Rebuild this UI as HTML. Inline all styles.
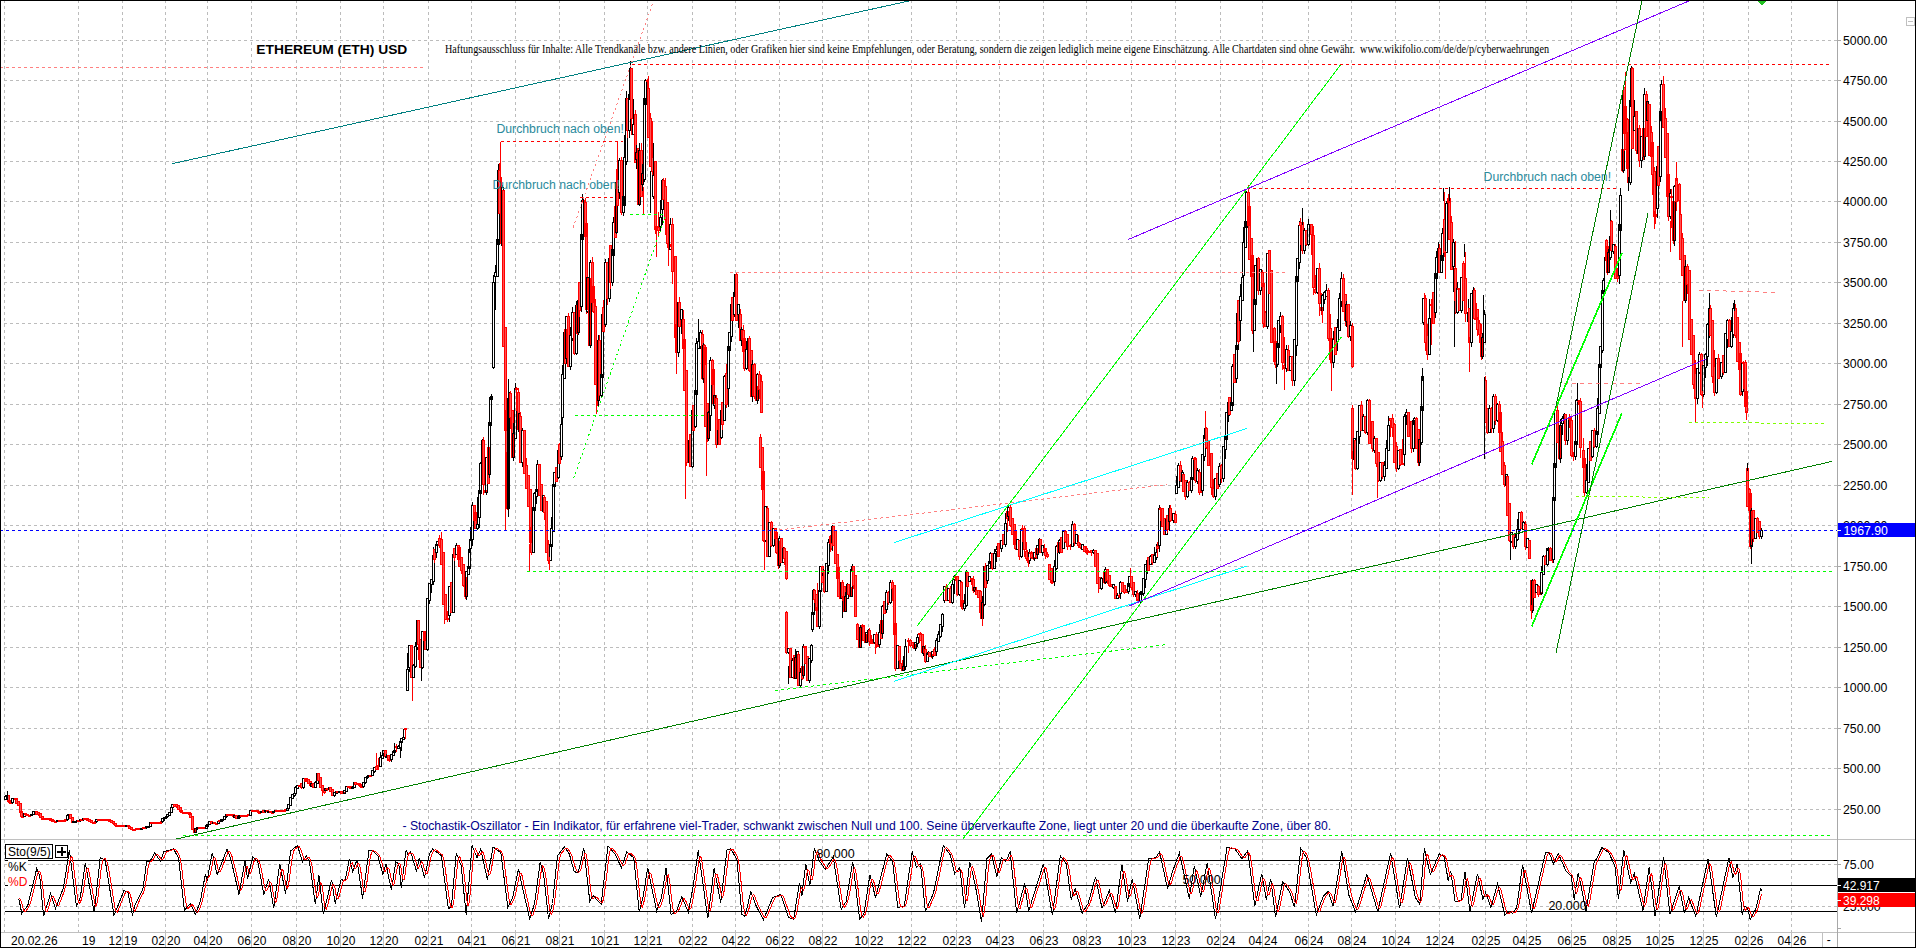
<!DOCTYPE html>
<html><head><meta charset="utf-8"><title>ETHEREUM (ETH) USD</title>
<style>html,body{margin:0;padding:0;background:#fff;overflow:hidden}svg{display:block}</style></head>
<body>
<svg width="1916" height="948" viewBox="0 0 1916 948" shape-rendering="crispEdges" fill="none">
<rect width="1916" height="948" fill="#fff"/>
<path d="M4 809.5H1837M4 768.5H1837M4 728.5H1837M4 687.5H1837M4 647.5H1837M4 606.5H1837M4 566.5H1837M4 525.5H1837M4 485.5H1837M4 444.5H1837M4 404.5H1837M4 363.5H1837M4 323.5H1837M4 282.5H1837M4 242.5H1837M4 201.5H1837M4 161.5H1837M4 121.5H1837M4 80.5H1837M4 40.5H1837M4 864.5H1837M4 906.5H1837M4.5 0V932M78.5 0V932M122.5 0V932M165.5 0V932M207.5 0V932M251.5 0V932M296.5 0V932M340.5 0V932M383.5 0V932M428.5 0V932M471.5 0V932M515.5 0V932M559.5 0V932M604.5 0V932M647.5 0V932M692.5 0V932M735.5 0V932M779.5 0V932M822.5 0V932M868.5 0V932M911.5 0V932M956.5 0V932M999.5 0V932M1043.5 0V932M1086.5 0V932M1131.5 0V932M1175.5 0V932M1220.5 0V932M1262.5 0V932M1308.5 0V932M1351.5 0V932M1395.5 0V932M1439.5 0V932M1485.5 0V932M1526.5 0V932M1571.5 0V932M1616.5 0V932M1659.5 0V932M1703.5 0V932M1748.5 0V932M1791.5 0V932" stroke="#bcbcbc" stroke-dasharray="3 3" fill="none"/>
<rect x="254" y="43" width="156" height="14" fill="#fff"/>
<rect x="443" y="43" width="1108" height="14" fill="#fff"/>
<rect x="401" y="820" width="932" height="14" fill="#fff"/>
<path d="M4.5 796.5h2V799.5h-2ZM6.5 794.5V795.5M6.5 796.5V797.5M5.5 795.5h2V796.5h-2Z" stroke="#000" fill="none"/>
<path d="M8.5 794.5V795.5M7.5 795.5h2V801.5h-2ZM8.5 800.5h2V802.5h-2ZM10.5 801.5V802.5M10.5 802.5V803.5M9.5 802.5h2V803.5h-2Z" stroke="#ff0000" fill="#ff5050"/>
<path d="M12.5 797.5V798.5M12.5 802.5V803.5M11.5 798.5h2V802.5h-2Z" stroke="#000" fill="none"/>
<path d="M15.5 797.5V798.5M15.5 798.5V800.5M14.5 798.5h2V799.5h-2ZM16.5 797.5V798.5M15.5 798.5h2V803.5h-2ZM17.5 801.5h2V805.5h-2ZM19.5 803.5h2V812.5h-2ZM20.5 811.5h2V816.5h-2ZM22.5 815.5V816.5M21.5 816.5h2V817.5h-2Z" stroke="#ff0000" fill="#ff5050"/>
<path d="M23.5 813.5h2V816.5h-2Z" stroke="#000" fill="none"/>
<path d="M25.5 814.5V815.5M24.5 813.5h2V814.5h-2ZM27.5 813.5V814.5M26.5 814.5h2V815.5h-2ZM29.5 814.5V815.5M28.5 815.5h2V816.5h-2Z" stroke="#ff0000" fill="#ff5050"/>
<path d="M31.5 813.5V814.5M30.5 814.5h2V815.5h-2ZM32.5 811.5h2V814.5h-2ZM35.5 812.5V813.5M34.5 811.5h2V812.5h-2Z" stroke="#000" fill="none"/>
<path d="M35.5 811.5h2V814.5h-2ZM38.5 814.5V815.5M37.5 812.5h2V814.5h-2ZM39.5 813.5h2V817.5h-2ZM41.5 816.5h2V819.5h-2ZM42.5 818.5h2V819.5h-2ZM45.5 818.5V819.5M44.5 818.5h2V819.5h-2ZM47.5 818.5V819.5M46.5 818.5h2V819.5h-2ZM48.5 818.5h2V819.5h-2ZM49.5 818.5h2V820.5h-2ZM51.5 819.5h2V821.5h-2ZM52.5 820.5h2V821.5h-2ZM55.5 820.5V821.5M54.5 821.5h2V822.5h-2Z" stroke="#ff0000" fill="#ff5050"/>
<path d="M56.5 820.5h2V821.5h-2Z" stroke="#000" fill="none"/>
<path d="M58.5 820.5h2V821.5h-2ZM59.5 820.5h2V821.5h-2ZM61.5 820.5h2V821.5h-2ZM64.5 819.5V820.5M63.5 820.5h2V821.5h-2ZM65.5 818.5V819.5M64.5 819.5h2V820.5h-2Z" stroke="#ff0000" fill="#ff5050"/>
<path d="M67.5 819.5V820.5M66.5 815.5h2V819.5h-2ZM68.5 813.5V814.5M68.5 815.5V816.5M67.5 814.5h2V815.5h-2Z" stroke="#000" fill="none"/>
<path d="M69.5 814.5h2V818.5h-2ZM71.5 817.5h2V822.5h-2Z" stroke="#ff0000" fill="#ff5050"/>
<path d="M72.5 821.5h2V822.5h-2ZM75.5 821.5V822.5M74.5 821.5h2V822.5h-2ZM76.5 820.5h2V821.5h-2Z" stroke="#000" fill="none"/>
<path d="M77.5 820.5h2V821.5h-2Z" stroke="#ff0000" fill="#ff5050"/>
<path d="M80.5 820.5V821.5M79.5 819.5h2V820.5h-2Z" stroke="#000" fill="none"/>
<path d="M80.5 819.5h2V820.5h-2Z" stroke="#ff0000" fill="#ff5050"/>
<path d="M83.5 819.5V820.5M82.5 818.5h2V819.5h-2Z" stroke="#000" fill="none"/>
<path d="M83.5 818.5h2V819.5h-2ZM86.5 817.5V818.5M85.5 818.5h2V819.5h-2ZM86.5 818.5h2V820.5h-2ZM88.5 819.5h2V821.5h-2ZM90.5 820.5h2V822.5h-2ZM93.5 821.5V822.5M92.5 822.5h2V823.5h-2ZM94.5 820.5V822.5M93.5 822.5h2V823.5h-2Z" stroke="#ff0000" fill="#ff5050"/>
<path d="M96.5 821.5V822.5M95.5 819.5h2V821.5h-2Z" stroke="#000" fill="none"/>
<path d="M97.5 819.5h2V820.5h-2ZM99.5 819.5V820.5M98.5 819.5h2V820.5h-2ZM100.5 819.5h2V820.5h-2ZM102.5 819.5h2V820.5h-2ZM103.5 819.5h2V820.5h-2ZM106.5 818.5V819.5M105.5 819.5h2V820.5h-2ZM108.5 818.5V819.5M107.5 819.5h2V820.5h-2ZM109.5 818.5V819.5M108.5 819.5h2V821.5h-2ZM110.5 820.5h2V822.5h-2ZM113.5 823.5V824.5M112.5 821.5h2V823.5h-2ZM115.5 825.5V826.5M114.5 823.5h2V825.5h-2ZM116.5 825.5h2V826.5h-2ZM118.5 825.5h2V826.5h-2ZM120.5 825.5h2V826.5h-2ZM123.5 825.5V826.5M122.5 825.5h2V826.5h-2ZM124.5 825.5V826.5M123.5 825.5h2V826.5h-2Z" stroke="#ff0000" fill="#ff5050"/>
<path d="M125.5 825.5h2V826.5h-2Z" stroke="#000" fill="none"/>
<path d="M128.5 826.5V827.5M127.5 825.5h2V826.5h-2ZM128.5 826.5h2V828.5h-2ZM130.5 827.5h2V829.5h-2ZM132.5 829.5h2V830.5h-2ZM134.5 828.5V829.5M133.5 829.5h2V830.5h-2ZM135.5 828.5h2V829.5h-2ZM136.5 828.5h2V829.5h-2ZM139.5 828.5V829.5M138.5 828.5h2V829.5h-2Z" stroke="#ff0000" fill="#ff5050"/>
<path d="M141.5 827.5V828.5M140.5 828.5h2V829.5h-2Z" stroke="#000" fill="none"/>
<path d="M142.5 827.5h2V828.5h-2ZM144.5 827.5h2V828.5h-2Z" stroke="#ff0000" fill="#ff5050"/>
<path d="M146.5 827.5V828.5M145.5 826.5h2V827.5h-2ZM148.5 826.5V827.5M147.5 826.5h2V827.5h-2ZM149.5 822.5h2V826.5h-2Z" stroke="#000" fill="none"/>
<path d="M150.5 822.5h2V823.5h-2ZM152.5 822.5h2V823.5h-2ZM154.5 822.5h2V823.5h-2ZM156.5 822.5h2V823.5h-2ZM158.5 822.5h2V823.5h-2ZM160.5 820.5V822.5M159.5 822.5h2V823.5h-2Z" stroke="#ff0000" fill="#ff5050"/>
<path d="M162.5 821.5V822.5M161.5 818.5h2V821.5h-2ZM164.5 818.5V820.5M163.5 817.5h2V818.5h-2ZM166.5 817.5V818.5M165.5 816.5h2V817.5h-2ZM167.5 816.5V817.5M166.5 814.5h2V816.5h-2ZM169.5 811.5V812.5M168.5 812.5h2V815.5h-2ZM170.5 807.5h2V812.5h-2ZM172.5 807.5V808.5M171.5 804.5h2V807.5h-2Z" stroke="#000" fill="none"/>
<path d="M173.5 804.5h2V806.5h-2ZM176.5 806.5V807.5M175.5 804.5h2V806.5h-2ZM178.5 804.5V805.5M177.5 805.5h2V809.5h-2ZM179.5 807.5h2V811.5h-2ZM181.5 809.5V810.5M180.5 810.5h2V812.5h-2ZM182.5 812.5h2V813.5h-2ZM185.5 811.5V812.5M184.5 812.5h2V813.5h-2ZM187.5 811.5V812.5M186.5 812.5h2V813.5h-2ZM189.5 811.5V812.5M188.5 812.5h2V814.5h-2ZM189.5 813.5h2V817.5h-2ZM191.5 816.5h2V829.5h-2ZM193.5 828.5h2V832.5h-2Z" stroke="#ff0000" fill="#ff5050"/>
<path d="M194.5 828.5h2V832.5h-2ZM197.5 826.5V827.5M197.5 828.5V829.5M196.5 827.5h2V828.5h-2Z" stroke="#000" fill="none"/>
<path d="M199.5 826.5V827.5M198.5 827.5h2V828.5h-2ZM200.5 827.5h2V828.5h-2ZM201.5 827.5h2V828.5h-2ZM203.5 827.5h2V828.5h-2Z" stroke="#ff0000" fill="#ff5050"/>
<path d="M205.5 825.5h2V828.5h-2ZM207.5 823.5V824.5M206.5 824.5h2V826.5h-2ZM208.5 821.5h2V824.5h-2Z" stroke="#000" fill="none"/>
<path d="M210.5 821.5h2V823.5h-2Z" stroke="#ff0000" fill="#ff5050"/>
<path d="M212.5 822.5h2V823.5h-2Z" stroke="#000" fill="none"/>
<path d="M213.5 822.5h2V823.5h-2ZM216.5 822.5V823.5M215.5 823.5h2V824.5h-2Z" stroke="#ff0000" fill="#ff5050"/>
<path d="M217.5 821.5h2V823.5h-2Z" stroke="#000" fill="none"/>
<path d="M218.5 820.5h2V821.5h-2Z" stroke="#ff0000" fill="#ff5050"/>
<path d="M220.5 819.5h2V821.5h-2ZM222.5 818.5V819.5M221.5 819.5h2V820.5h-2ZM223.5 816.5h2V819.5h-2ZM226.5 816.5V817.5M225.5 814.5h2V816.5h-2Z" stroke="#000" fill="none"/>
<path d="M227.5 813.5V814.5M227.5 814.5V815.5M226.5 814.5h2V815.5h-2ZM229.5 813.5V814.5M228.5 814.5h2V815.5h-2ZM230.5 814.5h2V815.5h-2ZM233.5 816.5V817.5M232.5 814.5h2V816.5h-2Z" stroke="#ff0000" fill="#ff5050"/>
<path d="M233.5 815.5h2V817.5h-2Z" stroke="#000" fill="none"/>
<path d="M235.5 815.5h2V818.5h-2Z" stroke="#ff0000" fill="#ff5050"/>
<path d="M237.5 816.5h2V818.5h-2ZM238.5 815.5h2V817.5h-2Z" stroke="#000" fill="none"/>
<path d="M241.5 815.5V816.5M240.5 815.5h2V816.5h-2ZM241.5 815.5h2V816.5h-2ZM243.5 815.5h2V816.5h-2ZM246.5 814.5V815.5M245.5 815.5h2V816.5h-2ZM247.5 814.5h2V815.5h-2Z" stroke="#ff0000" fill="#ff5050"/>
<path d="M250.5 809.5V810.5M249.5 810.5h2V815.5h-2Z" stroke="#000" fill="none"/>
<path d="M252.5 809.5V810.5M251.5 810.5h2V811.5h-2ZM254.5 809.5V810.5M253.5 810.5h2V811.5h-2ZM255.5 809.5V810.5M255.5 810.5V811.5M254.5 810.5h2V811.5h-2ZM257.5 811.5V812.5M256.5 810.5h2V811.5h-2ZM259.5 810.5V812.5M258.5 812.5h2V813.5h-2Z" stroke="#ff0000" fill="#ff5050"/>
<path d="M261.5 810.5V811.5M260.5 811.5h2V812.5h-2Z" stroke="#000" fill="none"/>
<path d="M262.5 810.5h2V812.5h-2Z" stroke="#ff0000" fill="#ff5050"/>
<path d="M265.5 809.5V810.5M265.5 811.5V812.5M264.5 810.5h2V811.5h-2Z" stroke="#000" fill="none"/>
<path d="M267.5 809.5V810.5M267.5 811.5V812.5M266.5 810.5h2V811.5h-2Z" stroke="#ff0000" fill="#ff5050"/>
<path d="M268.5 810.5V811.5M267.5 811.5h2V812.5h-2Z" stroke="#000" fill="none"/>
<path d="M269.5 811.5h2V812.5h-2ZM272.5 811.5V812.5M271.5 812.5h2V813.5h-2Z" stroke="#ff0000" fill="#ff5050"/>
<path d="M272.5 811.5h2V812.5h-2ZM275.5 809.5V810.5M274.5 810.5h2V811.5h-2Z" stroke="#000" fill="none"/>
<path d="M276.5 809.5V810.5M275.5 810.5h2V811.5h-2ZM278.5 809.5V810.5M277.5 810.5h2V811.5h-2ZM279.5 810.5h2V811.5h-2ZM280.5 810.5h2V811.5h-2ZM283.5 810.5V811.5M282.5 810.5h2V811.5h-2ZM285.5 810.5V811.5M284.5 809.5h2V810.5h-2Z" stroke="#ff0000" fill="#ff5050"/>
<path d="M287.5 807.5V808.5M286.5 808.5h2V810.5h-2ZM287.5 804.5h2V808.5h-2ZM289.5 797.5h2V805.5h-2ZM291.5 794.5h2V798.5h-2ZM294.5 795.5V796.5M293.5 793.5h2V795.5h-2ZM295.5 785.5V787.5M295.5 793.5V794.5M294.5 787.5h2V793.5h-2ZM296.5 785.5h2V788.5h-2Z" stroke="#000" fill="none"/>
<path d="M299.5 784.5V785.5M299.5 785.5V786.5M298.5 785.5h2V786.5h-2ZM301.5 787.5V788.5M300.5 783.5h2V787.5h-2Z" stroke="#ff0000" fill="#ff5050"/>
<path d="M303.5 777.5V778.5M303.5 787.5V788.5M302.5 778.5h2V787.5h-2Z" stroke="#000" fill="none"/>
<path d="M305.5 777.5V778.5M304.5 778.5h2V781.5h-2ZM305.5 778.5h2V781.5h-2ZM307.5 779.5h2V783.5h-2ZM310.5 785.5V786.5M309.5 781.5h2V785.5h-2Z" stroke="#ff0000" fill="#ff5050"/>
<path d="M310.5 783.5h2V786.5h-2Z" stroke="#000" fill="none"/>
<path d="M312.5 783.5h2V787.5h-2Z" stroke="#ff0000" fill="#ff5050"/>
<path d="M315.5 780.5V782.5M314.5 782.5h2V787.5h-2ZM317.5 772.5V773.5M316.5 773.5h2V783.5h-2Z" stroke="#000" fill="none"/>
<path d="M318.5 772.5V773.5M317.5 773.5h2V780.5h-2ZM319.5 777.5h2V787.5h-2ZM322.5 790.5V795.5M321.5 785.5h2V790.5h-2ZM324.5 792.5V793.5M323.5 789.5h2V792.5h-2Z" stroke="#ff0000" fill="#ff5050"/>
<path d="M324.5 788.5h2V790.5h-2Z" stroke="#000" fill="none"/>
<path d="M327.5 787.5V788.5M327.5 789.5V790.5M326.5 788.5h2V789.5h-2Z" stroke="#ff0000" fill="#ff5050"/>
<path d="M329.5 786.5V787.5M329.5 789.5V790.5M328.5 787.5h2V789.5h-2Z" stroke="#000" fill="none"/>
<path d="M330.5 786.5V787.5M329.5 787.5h2V791.5h-2ZM331.5 789.5h2V795.5h-2Z" stroke="#ff0000" fill="#ff5050"/>
<path d="M334.5 795.5V796.5M333.5 792.5h2V795.5h-2ZM336.5 790.5V791.5M335.5 791.5h2V793.5h-2Z" stroke="#000" fill="none"/>
<path d="M337.5 790.5V791.5M336.5 791.5h2V792.5h-2Z" stroke="#ff0000" fill="#ff5050"/>
<path d="M338.5 791.5h2V792.5h-2Z" stroke="#000" fill="none"/>
<path d="M340.5 791.5h2V793.5h-2ZM342.5 792.5h2V793.5h-2Z" stroke="#ff0000" fill="#ff5050"/>
<path d="M344.5 789.5V790.5M343.5 790.5h2V793.5h-2ZM345.5 786.5h2V791.5h-2Z" stroke="#000" fill="none"/>
<path d="M348.5 786.5V787.5M347.5 786.5h2V787.5h-2ZM349.5 787.5V788.5M348.5 786.5h2V787.5h-2ZM350.5 786.5h2V788.5h-2Z" stroke="#ff0000" fill="#ff5050"/>
<path d="M352.5 785.5V787.5M351.5 787.5h2V788.5h-2ZM354.5 781.5V782.5M353.5 782.5h2V787.5h-2Z" stroke="#000" fill="none"/>
<path d="M354.5 782.5h2V784.5h-2ZM357.5 782.5V783.5M357.5 783.5V784.5M356.5 783.5h2V784.5h-2ZM358.5 783.5h2V785.5h-2ZM360.5 786.5V787.5M359.5 784.5h2V786.5h-2ZM362.5 785.5V786.5M362.5 786.5V787.5M361.5 786.5h2V787.5h-2Z" stroke="#ff0000" fill="#ff5050"/>
<path d="M363.5 781.5V782.5M363.5 786.5V787.5M362.5 782.5h2V786.5h-2ZM365.5 776.5V777.5M365.5 782.5V783.5M364.5 777.5h2V782.5h-2ZM367.5 777.5V778.5M366.5 776.5h2V777.5h-2ZM368.5 774.5V775.5M367.5 775.5h2V776.5h-2Z" stroke="#000" fill="none"/>
<path d="M370.5 774.5V775.5M369.5 775.5h2V776.5h-2Z" stroke="#ff0000" fill="#ff5050"/>
<path d="M371.5 770.5h2V775.5h-2ZM374.5 771.5V772.5M373.5 767.5h2V771.5h-2Z" stroke="#000" fill="none"/>
<path d="M376.5 752.5V766.5M375.5 766.5h2V769.5h-2ZM378.5 757.5V765.5M378.5 766.5V769.5M377.5 765.5h2V766.5h-2Z" stroke="#ff0000" fill="#ff5050"/>
<path d="M380.5 751.5V757.5M379.5 757.5h2V766.5h-2ZM382.5 750.5V755.5M381.5 755.5h2V758.5h-2ZM383.5 753.5V755.5M382.5 750.5h2V753.5h-2Z" stroke="#000" fill="none"/>
<path d="M385.5 756.5V757.5M384.5 750.5h2V756.5h-2Z" stroke="#ff0000" fill="#ff5050"/>
<path d="M386.5 753.5V756.5M385.5 756.5h2V757.5h-2Z" stroke="#000" fill="none"/>
<path d="M387.5 755.5h2V760.5h-2ZM389.5 756.5V759.5M389.5 760.5V761.5M388.5 759.5h2V760.5h-2Z" stroke="#ff0000" fill="#ff5050"/>
<path d="M391.5 753.5V754.5M391.5 759.5V761.5M390.5 754.5h2V759.5h-2ZM393.5 750.5V751.5M392.5 751.5h2V755.5h-2ZM394.5 742.5V750.5M393.5 750.5h2V752.5h-2Z" stroke="#000" fill="none"/>
<path d="M396.5 743.5V746.5M396.5 747.5V751.5M395.5 746.5h2V747.5h-2Z" stroke="#ff0000" fill="#ff5050"/>
<path d="M398.5 744.5V746.5M397.5 746.5h2V748.5h-2ZM400.5 747.5V757.5M399.5 741.5h2V747.5h-2ZM401.5 737.5V738.5M401.5 742.5V750.5M400.5 738.5h2V742.5h-2ZM403.5 728.5V737.5M402.5 737.5h2V739.5h-2Z" stroke="#000" fill="none"/>
<path d="M405.5 729.5V738.5M404.5 728.5h2V729.5h-2Z" stroke="#ff0000" fill="#ff5050"/>
<path d="M407.5 652.5V669.5M406.5 669.5h2V690.5h-2ZM409.5 644.5V645.5M409.5 667.5V671.5M408.5 645.5h2V667.5h-2Z" stroke="#000" fill="none"/>
<path d="M411.5 644.5V645.5M410.5 645.5h2V677.5h-2Z" stroke="#ff0000" fill="#ff5050"/>
<path d="M413.5 663.5V665.5M412.5 665.5h2V677.5h-2ZM415.5 641.5V646.5M415.5 666.5V667.5M414.5 646.5h2V666.5h-2ZM417.5 619.5V620.5M417.5 647.5V649.5M416.5 620.5h2V647.5h-2Z" stroke="#000" fill="none"/>
<path d="M418.5 619.5V620.5M418.5 644.5V659.5M417.5 620.5h2V644.5h-2ZM419.5 639.5h2V667.5h-2Z" stroke="#ff0000" fill="#ff5050"/>
<path d="M422.5 630.5V631.5M422.5 667.5V668.5M421.5 631.5h2V667.5h-2Z" stroke="#000" fill="none"/>
<path d="M424.5 630.5V631.5M424.5 640.5V641.5M423.5 631.5h2V640.5h-2ZM424.5 632.5h2V649.5h-2Z" stroke="#ff0000" fill="#ff5050"/>
<path d="M427.5 597.5V598.5M427.5 649.5V650.5M426.5 598.5h2V649.5h-2ZM429.5 600.5V603.5M428.5 583.5h2V600.5h-2ZM431.5 578.5V579.5M431.5 584.5V592.5M430.5 579.5h2V584.5h-2ZM433.5 546.5V555.5M433.5 581.5V584.5M432.5 555.5h2V581.5h-2Z" stroke="#000" fill="none"/>
<path d="M434.5 559.5V562.5M433.5 549.5h2V559.5h-2Z" stroke="#ff0000" fill="#ff5050"/>
<path d="M436.5 541.5V544.5M436.5 552.5V557.5M435.5 544.5h2V552.5h-2ZM437.5 540.5V541.5M437.5 545.5V551.5M436.5 541.5h2V545.5h-2Z" stroke="#000" fill="none"/>
<path d="M439.5 534.5V538.5M439.5 545.5V547.5M438.5 538.5h2V545.5h-2ZM441.5 531.5V539.5M440.5 539.5h2V564.5h-2ZM442.5 552.5h2V604.5h-2ZM444.5 594.5h2V619.5h-2ZM447.5 610.5V618.5M447.5 619.5V621.5M446.5 618.5h2V619.5h-2Z" stroke="#ff0000" fill="#ff5050"/>
<path d="M449.5 585.5V586.5M449.5 615.5V621.5M448.5 586.5h2V615.5h-2Z" stroke="#000" fill="none"/>
<path d="M450.5 582.5h2V612.5h-2Z" stroke="#ff0000" fill="#ff5050"/>
<path d="M453.5 549.5V554.5M452.5 554.5h2V612.5h-2Z" stroke="#000" fill="none"/>
<path d="M454.5 557.5V560.5M453.5 548.5h2V557.5h-2Z" stroke="#ff0000" fill="#ff5050"/>
<path d="M456.5 542.5V545.5M455.5 545.5h2V554.5h-2Z" stroke="#000" fill="none"/>
<path d="M458.5 544.5V545.5M457.5 545.5h2V559.5h-2ZM458.5 547.5h2V566.5h-2ZM461.5 570.5V573.5M460.5 557.5h2V570.5h-2ZM463.5 585.5V586.5M462.5 564.5h2V585.5h-2ZM465.5 596.5V598.5M464.5 577.5h2V596.5h-2Z" stroke="#ff0000" fill="#ff5050"/>
<path d="M466.5 570.5V571.5M466.5 596.5V599.5M465.5 571.5h2V596.5h-2ZM468.5 548.5V566.5M467.5 566.5h2V574.5h-2ZM469.5 538.5V552.5M469.5 568.5V569.5M468.5 552.5h2V568.5h-2ZM470.5 526.5V540.5M470.5 548.5V554.5M469.5 540.5h2V548.5h-2ZM472.5 501.5V505.5M472.5 539.5V545.5M471.5 505.5h2V539.5h-2Z" stroke="#000" fill="none"/>
<path d="M474.5 504.5V505.5M473.5 505.5h2V520.5h-2ZM474.5 512.5h2V528.5h-2Z" stroke="#ff0000" fill="#ff5050"/>
<path d="M477.5 496.5V524.5M477.5 528.5V529.5M476.5 524.5h2V528.5h-2ZM479.5 486.5V490.5M479.5 517.5V527.5M478.5 490.5h2V517.5h-2ZM480.5 461.5V463.5M480.5 493.5V494.5M479.5 463.5h2V493.5h-2ZM482.5 438.5V440.5M482.5 466.5V484.5M481.5 440.5h2V466.5h-2Z" stroke="#000" fill="none"/>
<path d="M483.5 436.5V440.5M483.5 484.5V494.5M482.5 440.5h2V484.5h-2ZM485.5 470.5V490.5M484.5 490.5h2V492.5h-2Z" stroke="#ff0000" fill="#ff5050"/>
<path d="M486.5 456.5V457.5M486.5 492.5V494.5M485.5 457.5h2V492.5h-2Z" stroke="#000" fill="none"/>
<path d="M487.5 447.5h2V483.5h-2Z" stroke="#ff0000" fill="#ff5050"/>
<path d="M489.5 420.5V422.5M489.5 474.5V477.5M488.5 422.5h2V474.5h-2ZM489.5 397.5h2V425.5h-2ZM491.5 393.5V396.5M491.5 399.5V403.5M490.5 396.5h2V399.5h-2ZM493.5 274.5V282.5M493.5 367.5V368.5M492.5 282.5h2V367.5h-2ZM495.5 264.5V272.5M495.5 276.5V309.5M494.5 272.5h2V276.5h-2ZM497.5 225.5V239.5M496.5 239.5h2V276.5h-2ZM498.5 163.5V170.5M497.5 170.5h2V244.5h-2Z" stroke="#000" fill="none"/>
<path d="M499.5 162.5V170.5M498.5 170.5h2V213.5h-2ZM501.5 176.5V192.5M501.5 243.5V244.5M500.5 192.5h2V243.5h-2Z" stroke="#ff0000" fill="#ff5050"/>
<path d="M502.5 184.5V187.5M502.5 245.5V248.5M501.5 187.5h2V245.5h-2Z" stroke="#000" fill="none"/>
<path d="M503.5 189.5V190.5M502.5 190.5h2V346.5h-2ZM505.5 430.5V433.5M504.5 327.5h2V430.5h-2ZM505.5 410.5h2V462.5h-2ZM507.5 508.5V509.5M506.5 452.5h2V508.5h-2Z" stroke="#ff0000" fill="#ff5050"/>
<path d="M508.5 394.5V398.5M507.5 398.5h2V508.5h-2ZM509.5 391.5V393.5M508.5 393.5h2V401.5h-2Z" stroke="#000" fill="none"/>
<path d="M510.5 390.5V393.5M510.5 417.5V428.5M509.5 393.5h2V417.5h-2ZM512.5 409.5V410.5M511.5 410.5h2V457.5h-2Z" stroke="#ff0000" fill="#ff5050"/>
<path d="M513.5 422.5V433.5M513.5 457.5V460.5M512.5 433.5h2V457.5h-2ZM515.5 382.5V388.5M514.5 388.5h2V438.5h-2Z" stroke="#000" fill="none"/>
<path d="M516.5 386.5V388.5M516.5 388.5V410.5M515.5 388.5h2V389.5h-2ZM518.5 387.5V392.5M517.5 392.5h2V429.5h-2Z" stroke="#ff0000" fill="#ff5050"/>
<path d="M518.5 413.5h2V431.5h-2Z" stroke="#000" fill="none"/>
<path d="M520.5 411.5V416.5M519.5 416.5h2V462.5h-2Z" stroke="#ff0000" fill="#ff5050"/>
<path d="M522.5 427.5V430.5M522.5 462.5V466.5M521.5 430.5h2V462.5h-2Z" stroke="#000" fill="none"/>
<path d="M524.5 429.5V430.5M523.5 430.5h2V473.5h-2ZM526.5 457.5V465.5M525.5 465.5h2V488.5h-2ZM527.5 475.5h2V506.5h-2ZM530.5 542.5V543.5M529.5 489.5h2V542.5h-2ZM531.5 552.5V554.5M530.5 527.5h2V552.5h-2Z" stroke="#ff0000" fill="#ff5050"/>
<path d="M533.5 506.5V507.5M532.5 507.5h2V552.5h-2ZM534.5 491.5V493.5M534.5 510.5V523.5M533.5 493.5h2V510.5h-2ZM536.5 483.5V489.5M536.5 496.5V503.5M535.5 489.5h2V496.5h-2ZM537.5 459.5V464.5M537.5 491.5V493.5M536.5 464.5h2V491.5h-2Z" stroke="#000" fill="none"/>
<path d="M539.5 463.5V464.5M538.5 464.5h2V495.5h-2ZM540.5 484.5h2V510.5h-2Z" stroke="#ff0000" fill="#ff5050"/>
<path d="M543.5 511.5V512.5M542.5 495.5h2V511.5h-2Z" stroke="#000" fill="none"/>
<path d="M544.5 494.5V497.5M544.5 512.5V519.5M543.5 497.5h2V512.5h-2ZM545.5 501.5h2V552.5h-2ZM548.5 539.5V544.5M548.5 560.5V563.5M547.5 544.5h2V560.5h-2Z" stroke="#ff0000" fill="#ff5050"/>
<path d="M549.5 544.5h2V560.5h-2ZM551.5 516.5V528.5M551.5 546.5V558.5M550.5 528.5h2V546.5h-2ZM552.5 484.5h2V531.5h-2ZM554.5 471.5V472.5M554.5 486.5V501.5M553.5 472.5h2V486.5h-2Z" stroke="#000" fill="none"/>
<path d="M555.5 467.5h2V481.5h-2Z" stroke="#ff0000" fill="#ff5050"/>
<path d="M558.5 448.5V450.5M558.5 477.5V478.5M557.5 450.5h2V477.5h-2Z" stroke="#000" fill="none"/>
<path d="M559.5 442.5V444.5M558.5 444.5h2V463.5h-2Z" stroke="#ff0000" fill="#ff5050"/>
<path d="M561.5 412.5V424.5M561.5 456.5V459.5M560.5 424.5h2V456.5h-2ZM562.5 364.5V374.5M562.5 417.5V430.5M561.5 374.5h2V417.5h-2ZM564.5 330.5V332.5M563.5 332.5h2V378.5h-2Z" stroke="#000" fill="none"/>
<path d="M564.5 329.5h2V363.5h-2Z" stroke="#ff0000" fill="#ff5050"/>
<path d="M566.5 315.5V316.5M566.5 358.5V363.5M565.5 316.5h2V358.5h-2Z" stroke="#000" fill="none"/>
<path d="M568.5 312.5V316.5M567.5 316.5h2V366.5h-2Z" stroke="#ff0000" fill="#ff5050"/>
<path d="M570.5 326.5V335.5M570.5 366.5V369.5M569.5 335.5h2V366.5h-2ZM572.5 306.5V312.5M572.5 338.5V340.5M571.5 312.5h2V338.5h-2Z" stroke="#000" fill="none"/>
<path d="M574.5 311.5V312.5M574.5 353.5V354.5M573.5 312.5h2V353.5h-2Z" stroke="#ff0000" fill="#ff5050"/>
<path d="M576.5 300.5V305.5M576.5 353.5V354.5M575.5 305.5h2V353.5h-2Z" stroke="#000" fill="none"/>
<path d="M577.5 303.5V305.5M577.5 333.5V334.5M576.5 305.5h2V333.5h-2Z" stroke="#ff0000" fill="#ff5050"/>
<path d="M578.5 286.5V300.5M578.5 332.5V334.5M577.5 300.5h2V332.5h-2Z" stroke="#000" fill="none"/>
<path d="M579.5 310.5V316.5M578.5 282.5h2V310.5h-2Z" stroke="#ff0000" fill="#ff5050"/>
<path d="M581.5 306.5V311.5M580.5 234.5h2V306.5h-2ZM582.5 193.5V200.5M582.5 239.5V246.5M581.5 200.5h2V239.5h-2Z" stroke="#000" fill="none"/>
<path d="M583.5 198.5V200.5M583.5 202.5V215.5M582.5 200.5h2V202.5h-2ZM585.5 197.5V202.5M585.5 236.5V262.5M584.5 202.5h2V236.5h-2ZM586.5 309.5V313.5M585.5 223.5h2V309.5h-2Z" stroke="#ff0000" fill="#ff5050"/>
<path d="M587.5 311.5V312.5M586.5 277.5h2V311.5h-2Z" stroke="#000" fill="none"/>
<path d="M588.5 278.5h2V345.5h-2Z" stroke="#ff0000" fill="#ff5050"/>
<path d="M590.5 259.5V262.5M590.5 345.5V347.5M589.5 262.5h2V345.5h-2Z" stroke="#000" fill="none"/>
<path d="M592.5 256.5V262.5M592.5 302.5V306.5M591.5 262.5h2V302.5h-2ZM593.5 311.5V312.5M592.5 286.5h2V311.5h-2ZM595.5 298.5V306.5M594.5 306.5h2V384.5h-2ZM597.5 360.5V368.5M597.5 400.5V405.5M596.5 368.5h2V400.5h-2Z" stroke="#ff0000" fill="#ff5050"/>
<path d="M598.5 334.5V340.5M598.5 400.5V405.5M597.5 340.5h2V400.5h-2Z" stroke="#000" fill="none"/>
<path d="M599.5 334.5V340.5M598.5 340.5h2V395.5h-2Z" stroke="#ff0000" fill="#ff5050"/>
<path d="M601.5 395.5V396.5M600.5 374.5h2V395.5h-2ZM602.5 377.5V395.5M601.5 314.5h2V377.5h-2Z" stroke="#000" fill="none"/>
<path d="M603.5 299.5V307.5M602.5 307.5h2V331.5h-2Z" stroke="#ff0000" fill="#ff5050"/>
<path d="M605.5 258.5V262.5M605.5 324.5V326.5M604.5 262.5h2V324.5h-2Z" stroke="#000" fill="none"/>
<path d="M607.5 261.5V262.5M607.5 298.5V304.5M606.5 262.5h2V298.5h-2Z" stroke="#ff0000" fill="#ff5050"/>
<path d="M609.5 251.5V258.5M609.5 298.5V301.5M608.5 258.5h2V298.5h-2Z" stroke="#000" fill="none"/>
<path d="M610.5 282.5V288.5M609.5 245.5h2V282.5h-2Z" stroke="#ff0000" fill="#ff5050"/>
<path d="M612.5 241.5V249.5M612.5 282.5V285.5M611.5 249.5h2V282.5h-2ZM613.5 216.5V222.5M612.5 222.5h2V255.5h-2Z" stroke="#000" fill="none"/>
<path d="M614.5 206.5h2V237.5h-2Z" stroke="#ff0000" fill="#ff5050"/>
<path d="M616.5 179.5V182.5M616.5 232.5V233.5M615.5 182.5h2V232.5h-2Z" stroke="#000" fill="none"/>
<path d="M616.5 169.5h2V205.5h-2Z" stroke="#ff0000" fill="#ff5050"/>
<path d="M619.5 157.5V160.5M619.5 192.5V198.5M618.5 160.5h2V192.5h-2Z" stroke="#000" fill="none"/>
<path d="M621.5 156.5V160.5M621.5 212.5V214.5M620.5 160.5h2V212.5h-2Z" stroke="#ff0000" fill="#ff5050"/>
<path d="M623.5 169.5V196.5M623.5 212.5V215.5M622.5 196.5h2V212.5h-2ZM624.5 134.5V157.5M623.5 157.5h2V205.5h-2ZM626.5 90.5V98.5M626.5 161.5V164.5M625.5 98.5h2V161.5h-2Z" stroke="#000" fill="none"/>
<path d="M627.5 97.5V98.5M627.5 130.5V137.5M626.5 98.5h2V130.5h-2Z" stroke="#ff0000" fill="#ff5050"/>
<path d="M629.5 90.5V94.5M629.5 130.5V137.5M628.5 94.5h2V130.5h-2ZM630.5 60.5V68.5M630.5 99.5V108.5M629.5 68.5h2V99.5h-2Z" stroke="#000" fill="none"/>
<path d="M631.5 67.5V68.5M631.5 118.5V134.5M630.5 68.5h2V118.5h-2Z" stroke="#ff0000" fill="#ff5050"/>
<path d="M633.5 98.5V124.5M632.5 124.5h2V134.5h-2Z" stroke="#000" fill="none"/>
<path d="M635.5 109.5V114.5M634.5 114.5h2V162.5h-2Z" stroke="#ff0000" fill="#ff5050"/>
<path d="M636.5 144.5V152.5M636.5 159.5V168.5M635.5 152.5h2V159.5h-2Z" stroke="#000" fill="none"/>
<path d="M637.5 148.5h2V204.5h-2Z" stroke="#ff0000" fill="#ff5050"/>
<path d="M639.5 142.5V150.5M639.5 204.5V205.5M638.5 150.5h2V204.5h-2Z" stroke="#000" fill="none"/>
<path d="M641.5 142.5V150.5M640.5 150.5h2V196.5h-2Z" stroke="#ff0000" fill="#ff5050"/>
<path d="M642.5 163.5V173.5M642.5 184.5V190.5M641.5 173.5h2V184.5h-2ZM644.5 179.5V181.5M643.5 98.5h2V179.5h-2ZM645.5 78.5V80.5M645.5 104.5V120.5M644.5 80.5h2V104.5h-2Z" stroke="#000" fill="none"/>
<path d="M647.5 78.5V80.5M647.5 81.5V120.5M646.5 80.5h2V81.5h-2ZM648.5 75.5V88.5M647.5 88.5h2V137.5h-2ZM650.5 112.5V118.5M649.5 118.5h2V166.5h-2ZM652.5 120.5V157.5M652.5 171.5V193.5M651.5 157.5h2V171.5h-2Z" stroke="#ff0000" fill="#ff5050"/>
<path d="M653.5 142.5V175.5M653.5 196.5V198.5M652.5 175.5h2V196.5h-2Z" stroke="#000" fill="none"/>
<path d="M655.5 229.5V233.5M654.5 161.5h2V229.5h-2ZM656.5 230.5V231.5M655.5 226.5h2V230.5h-2ZM658.5 211.5V227.5M658.5 230.5V235.5M657.5 227.5h2V230.5h-2Z" stroke="#ff0000" fill="#ff5050"/>
<path d="M660.5 199.5V217.5M660.5 226.5V230.5M659.5 217.5h2V226.5h-2ZM662.5 178.5V180.5M662.5 209.5V224.5M661.5 180.5h2V209.5h-2Z" stroke="#000" fill="none"/>
<path d="M663.5 177.5V180.5M662.5 180.5h2V199.5h-2ZM665.5 177.5V186.5M665.5 219.5V234.5M664.5 186.5h2V219.5h-2ZM667.5 243.5V247.5M666.5 202.5h2V243.5h-2ZM669.5 225.5V244.5M669.5 246.5V247.5M668.5 244.5h2V246.5h-2Z" stroke="#ff0000" fill="#ff5050"/>
<path d="M670.5 217.5V224.5M669.5 224.5h2V249.5h-2Z" stroke="#000" fill="none"/>
<path d="M672.5 217.5V224.5M672.5 271.5V283.5M671.5 224.5h2V271.5h-2ZM674.5 256.5h2V337.5h-2ZM676.5 352.5V353.5M675.5 324.5h2V352.5h-2Z" stroke="#ff0000" fill="#ff5050"/>
<path d="M678.5 301.5V302.5M678.5 352.5V356.5M677.5 302.5h2V352.5h-2Z" stroke="#000" fill="none"/>
<path d="M679.5 296.5V302.5M678.5 302.5h2V326.5h-2Z" stroke="#ff0000" fill="#ff5050"/>
<path d="M681.5 308.5V309.5M681.5 319.5V333.5M680.5 309.5h2V319.5h-2Z" stroke="#000" fill="none"/>
<path d="M683.5 309.5V319.5M683.5 348.5V350.5M682.5 319.5h2V348.5h-2ZM684.5 337.5V339.5M683.5 339.5h2V390.5h-2ZM686.5 462.5V465.5M685.5 370.5h2V462.5h-2Z" stroke="#ff0000" fill="#ff5050"/>
<path d="M689.5 435.5V440.5M689.5 462.5V466.5M688.5 440.5h2V462.5h-2Z" stroke="#000" fill="none"/>
<path d="M689.5 434.5h2V466.5h-2Z" stroke="#ff0000" fill="#ff5050"/>
<path d="M692.5 405.5V410.5M692.5 466.5V467.5M691.5 410.5h2V466.5h-2Z" stroke="#000" fill="none"/>
<path d="M692.5 405.5h2V430.5h-2Z" stroke="#ff0000" fill="#ff5050"/>
<path d="M695.5 389.5V390.5M695.5 426.5V427.5M694.5 390.5h2V426.5h-2ZM696.5 337.5V343.5M696.5 394.5V397.5M695.5 343.5h2V394.5h-2ZM698.5 318.5V341.5M697.5 341.5h2V348.5h-2ZM700.5 329.5V332.5M700.5 346.5V348.5M699.5 332.5h2V346.5h-2Z" stroke="#000" fill="none"/>
<path d="M702.5 329.5V334.5M702.5 378.5V379.5M701.5 334.5h2V378.5h-2Z" stroke="#ff0000" fill="#ff5050"/>
<path d="M703.5 342.5V345.5M703.5 378.5V382.5M702.5 345.5h2V378.5h-2Z" stroke="#000" fill="none"/>
<path d="M704.5 343.5V345.5M704.5 364.5V379.5M703.5 345.5h2V364.5h-2ZM704.5 347.5h2V426.5h-2ZM707.5 402.5V403.5M707.5 438.5V441.5M706.5 403.5h2V438.5h-2Z" stroke="#ff0000" fill="#ff5050"/>
<path d="M708.5 410.5V412.5M708.5 438.5V440.5M707.5 412.5h2V438.5h-2ZM710.5 356.5V360.5M710.5 415.5V430.5M709.5 360.5h2V415.5h-2Z" stroke="#000" fill="none"/>
<path d="M712.5 358.5V360.5M711.5 360.5h2V384.5h-2ZM713.5 403.5V404.5M712.5 369.5h2V403.5h-2Z" stroke="#ff0000" fill="#ff5050"/>
<path d="M714.5 405.5V408.5M713.5 395.5h2V405.5h-2Z" stroke="#000" fill="none"/>
<path d="M716.5 394.5V398.5M716.5 444.5V447.5M715.5 398.5h2V444.5h-2Z" stroke="#ff0000" fill="#ff5050"/>
<path d="M717.5 430.5h2V444.5h-2Z" stroke="#000" fill="none"/>
<path d="M718.5 419.5h2V444.5h-2Z" stroke="#ff0000" fill="#ff5050"/>
<path d="M721.5 406.5V410.5M721.5 437.5V438.5M720.5 410.5h2V437.5h-2Z" stroke="#000" fill="none"/>
<path d="M722.5 424.5V429.5M721.5 402.5h2V424.5h-2Z" stroke="#ff0000" fill="#ff5050"/>
<path d="M724.5 374.5V376.5M723.5 376.5h2V420.5h-2Z" stroke="#000" fill="none"/>
<path d="M726.5 363.5V373.5M726.5 404.5V407.5M725.5 373.5h2V404.5h-2Z" stroke="#ff0000" fill="#ff5050"/>
<path d="M728.5 343.5V346.5M728.5 388.5V406.5M727.5 346.5h2V388.5h-2ZM728.5 332.5h2V350.5h-2ZM731.5 302.5V304.5M731.5 336.5V341.5M730.5 304.5h2V336.5h-2Z" stroke="#000" fill="none"/>
<path d="M731.5 297.5h2V320.5h-2Z" stroke="#ff0000" fill="#ff5050"/>
<path d="M734.5 289.5V292.5M734.5 314.5V316.5M733.5 292.5h2V314.5h-2ZM735.5 273.5V274.5M735.5 296.5V299.5M734.5 274.5h2V296.5h-2Z" stroke="#000" fill="none"/>
<path d="M736.5 272.5V274.5M735.5 274.5h2V320.5h-2Z" stroke="#ff0000" fill="#ff5050"/>
<path d="M738.5 314.5V327.5M737.5 304.5h2V314.5h-2Z" stroke="#000" fill="none"/>
<path d="M740.5 308.5V314.5M739.5 314.5h2V340.5h-2Z" stroke="#ff0000" fill="#ff5050"/>
<path d="M741.5 326.5V329.5M741.5 340.5V345.5M740.5 329.5h2V340.5h-2Z" stroke="#000" fill="none"/>
<path d="M743.5 324.5V330.5M743.5 351.5V355.5M742.5 330.5h2V351.5h-2ZM744.5 337.5V338.5M744.5 368.5V370.5M743.5 338.5h2V368.5h-2Z" stroke="#ff0000" fill="#ff5050"/>
<path d="M746.5 340.5V349.5M746.5 368.5V369.5M745.5 349.5h2V368.5h-2ZM748.5 337.5V338.5M748.5 352.5V353.5M747.5 338.5h2V352.5h-2Z" stroke="#000" fill="none"/>
<path d="M749.5 335.5V338.5M749.5 370.5V371.5M748.5 338.5h2V370.5h-2ZM750.5 350.5h2V396.5h-2Z" stroke="#ff0000" fill="#ff5050"/>
<path d="M752.5 359.5V364.5M752.5 396.5V401.5M751.5 364.5h2V396.5h-2Z" stroke="#000" fill="none"/>
<path d="M754.5 362.5V364.5M754.5 396.5V398.5M753.5 364.5h2V396.5h-2ZM756.5 376.5V386.5M755.5 386.5h2V400.5h-2Z" stroke="#ff0000" fill="#ff5050"/>
<path d="M757.5 372.5V374.5M757.5 400.5V403.5M756.5 374.5h2V400.5h-2Z" stroke="#000" fill="none"/>
<path d="M759.5 370.5V374.5M759.5 389.5V398.5M758.5 374.5h2V389.5h-2ZM761.5 374.5V381.5M760.5 381.5h2V412.5h-2ZM760.5 433.5V437.5M759.5 437.5h2V467.5h-2ZM761.5 447.5h2V489.5h-2ZM763.5 540.5V541.5M762.5 471.5h2V540.5h-2Z" stroke="#ff0000" fill="#ff5050"/>
<path d="M765.5 540.5V541.5M764.5 506.5h2V540.5h-2Z" stroke="#000" fill="none"/>
<path d="M767.5 505.5V508.5M766.5 508.5h2V556.5h-2Z" stroke="#ff0000" fill="#ff5050"/>
<path d="M769.5 521.5V522.5M768.5 522.5h2V556.5h-2Z" stroke="#000" fill="none"/>
<path d="M771.5 520.5V522.5M771.5 545.5V546.5M770.5 522.5h2V545.5h-2Z" stroke="#ff0000" fill="#ff5050"/>
<path d="M773.5 527.5V528.5M773.5 545.5V546.5M772.5 528.5h2V545.5h-2Z" stroke="#000" fill="none"/>
<path d="M775.5 527.5V528.5M775.5 538.5V543.5M774.5 528.5h2V538.5h-2ZM776.5 530.5V532.5M776.5 552.5V553.5M775.5 532.5h2V552.5h-2ZM778.5 565.5V568.5M777.5 541.5h2V565.5h-2Z" stroke="#ff0000" fill="#ff5050"/>
<path d="M779.5 535.5V538.5M779.5 565.5V567.5M778.5 538.5h2V565.5h-2Z" stroke="#000" fill="none"/>
<path d="M781.5 537.5V538.5M780.5 538.5h2V562.5h-2Z" stroke="#ff0000" fill="#ff5050"/>
<path d="M783.5 546.5V548.5M782.5 548.5h2V562.5h-2Z" stroke="#000" fill="none"/>
<path d="M784.5 546.5V548.5M784.5 558.5V564.5M783.5 548.5h2V558.5h-2ZM786.5 578.5V579.5M785.5 551.5h2V578.5h-2ZM786.5 610.5V612.5M786.5 652.5V653.5M785.5 612.5h2V652.5h-2Z" stroke="#ff0000" fill="#ff5050"/>
<path d="M788.5 647.5V648.5M788.5 652.5V653.5M787.5 648.5h2V652.5h-2Z" stroke="#000" fill="none"/>
<path d="M789.5 648.5h2V677.5h-2Z" stroke="#ff0000" fill="#ff5050"/>
<path d="M792.5 657.5V660.5M791.5 660.5h2V677.5h-2Z" stroke="#000" fill="none"/>
<path d="M793.5 655.5h2V678.5h-2Z" stroke="#ff0000" fill="#ff5050"/>
<path d="M795.5 648.5V657.5M794.5 657.5h2V678.5h-2ZM797.5 658.5V662.5M796.5 651.5h2V658.5h-2Z" stroke="#000" fill="none"/>
<path d="M798.5 651.5V654.5M797.5 654.5h2V685.5h-2Z" stroke="#ff0000" fill="#ff5050"/>
<path d="M800.5 667.5V672.5M800.5 685.5V686.5M799.5 672.5h2V685.5h-2Z" stroke="#000" fill="none"/>
<path d="M802.5 678.5V679.5M801.5 666.5h2V678.5h-2Z" stroke="#ff0000" fill="#ff5050"/>
<path d="M803.5 643.5V646.5M803.5 675.5V677.5M802.5 646.5h2V675.5h-2Z" stroke="#000" fill="none"/>
<path d="M804.5 645.5V646.5M804.5 646.5V654.5M803.5 646.5h2V647.5h-2ZM805.5 645.5V646.5M804.5 646.5h2V663.5h-2ZM806.5 656.5h2V680.5h-2Z" stroke="#ff0000" fill="#ff5050"/>
<path d="M809.5 680.5V682.5M808.5 658.5h2V680.5h-2ZM811.5 643.5V645.5M811.5 660.5V662.5M810.5 645.5h2V660.5h-2ZM812.5 606.5V612.5M812.5 629.5V631.5M811.5 612.5h2V629.5h-2ZM813.5 588.5V590.5M813.5 614.5V615.5M812.5 590.5h2V614.5h-2Z" stroke="#000" fill="none"/>
<path d="M814.5 588.5V590.5M814.5 599.5V602.5M813.5 590.5h2V599.5h-2ZM815.5 594.5h2V610.5h-2ZM817.5 582.5V607.5M816.5 607.5h2V626.5h-2Z" stroke="#ff0000" fill="#ff5050"/>
<path d="M819.5 588.5V590.5M819.5 626.5V628.5M818.5 590.5h2V626.5h-2ZM820.5 565.5V566.5M819.5 566.5h2V591.5h-2Z" stroke="#000" fill="none"/>
<path d="M822.5 565.5V566.5M821.5 566.5h2V582.5h-2Z" stroke="#ff0000" fill="#ff5050"/>
<path d="M823.5 568.5V573.5M823.5 575.5V582.5M822.5 573.5h2V575.5h-2Z" stroke="#000" fill="none"/>
<path d="M824.5 591.5V592.5M823.5 570.5h2V591.5h-2Z" stroke="#ff0000" fill="#ff5050"/>
<path d="M825.5 563.5h2V591.5h-2ZM828.5 538.5V542.5M828.5 565.5V573.5M827.5 542.5h2V565.5h-2Z" stroke="#000" fill="none"/>
<path d="M830.5 543.5V551.5M829.5 536.5h2V543.5h-2ZM831.5 534.5V535.5M831.5 548.5V549.5M830.5 535.5h2V548.5h-2Z" stroke="#ff0000" fill="#ff5050"/>
<path d="M832.5 524.5V526.5M832.5 542.5V550.5M831.5 526.5h2V542.5h-2Z" stroke="#000" fill="none"/>
<path d="M833.5 525.5V526.5M832.5 526.5h2V545.5h-2ZM834.5 530.5h2V563.5h-2ZM836.5 554.5h2V578.5h-2ZM837.5 567.5h2V596.5h-2ZM840.5 584.5V588.5M839.5 588.5h2V598.5h-2Z" stroke="#ff0000" fill="#ff5050"/>
<path d="M841.5 581.5V582.5M840.5 582.5h2V598.5h-2Z" stroke="#000" fill="none"/>
<path d="M842.5 579.5V582.5M842.5 596.5V600.5M841.5 582.5h2V596.5h-2ZM843.5 586.5h2V611.5h-2Z" stroke="#ff0000" fill="#ff5050"/>
<path d="M845.5 591.5V596.5M844.5 596.5h2V611.5h-2ZM847.5 582.5V584.5M846.5 584.5h2V598.5h-2Z" stroke="#000" fill="none"/>
<path d="M848.5 583.5V584.5M847.5 584.5h2V594.5h-2ZM849.5 587.5h2V596.5h-2Z" stroke="#ff0000" fill="#ff5050"/>
<path d="M851.5 566.5V569.5M850.5 569.5h2V596.5h-2ZM852.5 563.5V566.5M851.5 566.5h2V571.5h-2Z" stroke="#000" fill="none"/>
<path d="M853.5 565.5V566.5M853.5 585.5V588.5M852.5 566.5h2V585.5h-2ZM854.5 575.5h2V616.5h-2ZM857.5 622.5V624.5M856.5 624.5h2V639.5h-2ZM858.5 627.5h2V647.5h-2Z" stroke="#ff0000" fill="#ff5050"/>
<path d="M860.5 624.5V627.5M859.5 627.5h2V647.5h-2Z" stroke="#000" fill="none"/>
<path d="M862.5 623.5V625.5M862.5 625.5V632.5M861.5 625.5h2V626.5h-2ZM863.5 624.5V625.5M862.5 625.5h2V640.5h-2ZM865.5 631.5V634.5M864.5 634.5h2V642.5h-2Z" stroke="#ff0000" fill="#ff5050"/>
<path d="M866.5 631.5V632.5M865.5 632.5h2V642.5h-2ZM868.5 628.5V630.5M868.5 633.5V637.5M867.5 630.5h2V633.5h-2Z" stroke="#000" fill="none"/>
<path d="M869.5 627.5V630.5M869.5 641.5V645.5M868.5 630.5h2V641.5h-2ZM871.5 634.5V642.5M870.5 642.5h2V643.5h-2ZM872.5 638.5V642.5M871.5 642.5h2V643.5h-2Z" stroke="#ff0000" fill="#ff5050"/>
<path d="M874.5 633.5V634.5M874.5 642.5V643.5M873.5 634.5h2V642.5h-2Z" stroke="#000" fill="none"/>
<path d="M876.5 631.5V634.5M876.5 646.5V647.5M875.5 634.5h2V646.5h-2ZM877.5 638.5V644.5M876.5 644.5h2V646.5h-2Z" stroke="#ff0000" fill="#ff5050"/>
<path d="M879.5 623.5V632.5M879.5 644.5V647.5M878.5 632.5h2V644.5h-2Z" stroke="#000" fill="none"/>
<path d="M880.5 620.5h2V638.5h-2Z" stroke="#ff0000" fill="#ff5050"/>
<path d="M882.5 604.5V606.5M882.5 633.5V637.5M881.5 606.5h2V633.5h-2Z" stroke="#000" fill="none"/>
<path d="M883.5 601.5h2V613.5h-2Z" stroke="#ff0000" fill="#ff5050"/>
<path d="M886.5 589.5V592.5M886.5 609.5V612.5M885.5 592.5h2V609.5h-2Z" stroke="#000" fill="none"/>
<path d="M888.5 590.5V592.5M888.5 602.5V604.5M887.5 592.5h2V602.5h-2Z" stroke="#ff0000" fill="#ff5050"/>
<path d="M890.5 579.5V582.5M890.5 602.5V603.5M889.5 582.5h2V602.5h-2Z" stroke="#000" fill="none"/>
<path d="M892.5 579.5V582.5M892.5 588.5V600.5M891.5 582.5h2V588.5h-2ZM894.5 634.5V635.5M893.5 585.5h2V634.5h-2ZM895.5 668.5V670.5M894.5 623.5h2V668.5h-2Z" stroke="#ff0000" fill="#ff5050"/>
<path d="M896.5 645.5h2V668.5h-2Z" stroke="#000" fill="none"/>
<path d="M899.5 645.5V646.5M899.5 660.5V665.5M898.5 646.5h2V660.5h-2ZM900.5 650.5V663.5M899.5 663.5h2V668.5h-2ZM902.5 659.5V665.5M901.5 665.5h2V670.5h-2Z" stroke="#ff0000" fill="#ff5050"/>
<path d="M903.5 655.5V666.5M902.5 666.5h2V670.5h-2ZM905.5 638.5V646.5M905.5 666.5V669.5M904.5 646.5h2V666.5h-2Z" stroke="#000" fill="none"/>
<path d="M908.5 637.5V640.5M908.5 640.5V652.5M907.5 640.5h2V641.5h-2ZM910.5 638.5V640.5M910.5 645.5V646.5M909.5 640.5h2V645.5h-2ZM912.5 641.5V642.5M912.5 645.5V647.5M911.5 642.5h2V645.5h-2ZM914.5 641.5V644.5M913.5 644.5h2V648.5h-2Z" stroke="#ff0000" fill="#ff5050"/>
<path d="M915.5 648.5V650.5M914.5 642.5h2V648.5h-2ZM917.5 633.5V637.5M917.5 643.5V646.5M916.5 637.5h2V643.5h-2Z" stroke="#000" fill="none"/>
<path d="M919.5 632.5V633.5M919.5 633.5V642.5M918.5 633.5h2V634.5h-2ZM920.5 631.5V633.5M919.5 633.5h2V640.5h-2ZM922.5 652.5V653.5M921.5 634.5h2V652.5h-2Z" stroke="#ff0000" fill="#ff5050"/>
<path d="M923.5 653.5V655.5M922.5 646.5h2V653.5h-2Z" stroke="#000" fill="none"/>
<path d="M925.5 644.5V649.5M925.5 661.5V662.5M924.5 649.5h2V661.5h-2Z" stroke="#ff0000" fill="#ff5050"/>
<path d="M926.5 653.5h2V661.5h-2ZM928.5 650.5V652.5M928.5 654.5V656.5M927.5 652.5h2V654.5h-2Z" stroke="#000" fill="none"/>
<path d="M929.5 651.5V652.5M928.5 652.5h2V656.5h-2ZM931.5 653.5V654.5M931.5 656.5V657.5M930.5 654.5h2V656.5h-2Z" stroke="#ff0000" fill="#ff5050"/>
<path d="M932.5 656.5V658.5M931.5 651.5h2V656.5h-2Z" stroke="#000" fill="none"/>
<path d="M934.5 646.5V649.5M933.5 649.5h2V655.5h-2Z" stroke="#ff0000" fill="#ff5050"/>
<path d="M936.5 637.5V640.5M936.5 651.5V655.5M935.5 640.5h2V651.5h-2ZM938.5 630.5V634.5M937.5 634.5h2V641.5h-2ZM940.5 623.5V624.5M940.5 636.5V637.5M939.5 624.5h2V636.5h-2ZM942.5 612.5V614.5M942.5 626.5V631.5M941.5 614.5h2V626.5h-2ZM944.5 585.5V586.5M944.5 600.5V602.5M943.5 586.5h2V600.5h-2Z" stroke="#000" fill="none"/>
<path d="M946.5 583.5V586.5M945.5 586.5h2V600.5h-2Z" stroke="#ff0000" fill="#ff5050"/>
<path d="M948.5 587.5V588.5M947.5 588.5h2V600.5h-2Z" stroke="#000" fill="none"/>
<path d="M950.5 585.5V588.5M949.5 588.5h2V602.5h-2Z" stroke="#ff0000" fill="#ff5050"/>
<path d="M952.5 578.5V584.5M952.5 602.5V603.5M951.5 584.5h2V602.5h-2ZM954.5 574.5V576.5M954.5 579.5V593.5M953.5 576.5h2V579.5h-2Z" stroke="#000" fill="none"/>
<path d="M955.5 573.5V576.5M955.5 577.5V580.5M954.5 576.5h2V577.5h-2ZM957.5 575.5V576.5M957.5 594.5V595.5M956.5 576.5h2V594.5h-2Z" stroke="#ff0000" fill="#ff5050"/>
<path d="M959.5 594.5V595.5M958.5 580.5h2V594.5h-2Z" stroke="#000" fill="none"/>
<path d="M961.5 580.5V582.5M960.5 582.5h2V606.5h-2ZM962.5 599.5V600.5M962.5 608.5V609.5M961.5 600.5h2V608.5h-2Z" stroke="#ff0000" fill="#ff5050"/>
<path d="M964.5 593.5V603.5M964.5 608.5V610.5M963.5 603.5h2V608.5h-2ZM966.5 569.5V572.5M966.5 605.5V606.5M965.5 572.5h2V605.5h-2Z" stroke="#000" fill="none"/>
<path d="M967.5 571.5V572.5M966.5 572.5h2V586.5h-2Z" stroke="#ff0000" fill="#ff5050"/>
<path d="M968.5 576.5h2V581.5h-2Z" stroke="#000" fill="none"/>
<path d="M971.5 577.5V578.5M971.5 579.5V584.5M970.5 578.5h2V579.5h-2ZM973.5 575.5V579.5M973.5 590.5V592.5M972.5 579.5h2V590.5h-2Z" stroke="#ff0000" fill="#ff5050"/>
<path d="M974.5 590.5V591.5M973.5 587.5h2V590.5h-2Z" stroke="#000" fill="none"/>
<path d="M976.5 586.5V590.5M975.5 590.5h2V594.5h-2ZM978.5 589.5V590.5M977.5 590.5h2V597.5h-2ZM980.5 589.5V591.5M979.5 591.5h2V612.5h-2ZM981.5 598.5V600.5M980.5 600.5h2V618.5h-2Z" stroke="#ff0000" fill="#ff5050"/>
<path d="M982.5 595.5V602.5M982.5 618.5V620.5M981.5 602.5h2V618.5h-2ZM984.5 565.5V566.5M984.5 604.5V605.5M983.5 566.5h2V604.5h-2Z" stroke="#000" fill="none"/>
<path d="M985.5 562.5V566.5M984.5 566.5h2V587.5h-2Z" stroke="#ff0000" fill="#ff5050"/>
<path d="M987.5 580.5V583.5M986.5 565.5h2V580.5h-2ZM989.5 554.5V561.5M988.5 561.5h2V568.5h-2ZM990.5 551.5V553.5M990.5 563.5V564.5M989.5 553.5h2V563.5h-2Z" stroke="#000" fill="none"/>
<path d="M992.5 552.5V553.5M992.5 568.5V569.5M991.5 553.5h2V568.5h-2Z" stroke="#ff0000" fill="#ff5050"/>
<path d="M994.5 548.5V553.5M993.5 553.5h2V568.5h-2ZM996.5 545.5V549.5M996.5 551.5V561.5M995.5 549.5h2V551.5h-2Z" stroke="#000" fill="none"/>
<path d="M997.5 543.5h2V556.5h-2Z" stroke="#ff0000" fill="#ff5050"/>
<path d="M1001.5 539.5V540.5M1001.5 548.5V551.5M1000.5 540.5h2V548.5h-2Z" stroke="#000" fill="none"/>
<path d="M1002.5 534.5h2V544.5h-2Z" stroke="#ff0000" fill="#ff5050"/>
<path d="M1005.5 512.5V523.5M1005.5 544.5V546.5M1004.5 523.5h2V544.5h-2Z" stroke="#000" fill="none"/>
<path d="M1007.5 518.5V531.5M1006.5 511.5h2V518.5h-2Z" stroke="#ff0000" fill="#ff5050"/>
<path d="M1008.5 505.5V507.5M1008.5 516.5V520.5M1007.5 507.5h2V516.5h-2Z" stroke="#000" fill="none"/>
<path d="M1010.5 504.5V507.5M1010.5 525.5V526.5M1009.5 507.5h2V525.5h-2ZM1011.5 518.5h2V534.5h-2ZM1013.5 524.5h2V544.5h-2ZM1015.5 548.5V549.5M1014.5 530.5h2V548.5h-2Z" stroke="#ff0000" fill="#ff5050"/>
<path d="M1016.5 539.5h2V549.5h-2Z" stroke="#000" fill="none"/>
<path d="M1019.5 539.5V540.5M1019.5 556.5V559.5M1018.5 540.5h2V556.5h-2Z" stroke="#ff0000" fill="#ff5050"/>
<path d="M1021.5 527.5V529.5M1021.5 556.5V557.5M1020.5 529.5h2V556.5h-2Z" stroke="#000" fill="none"/>
<path d="M1022.5 524.5V528.5M1022.5 529.5V541.5M1021.5 528.5h2V529.5h-2ZM1024.5 525.5V528.5M1024.5 549.5V556.5M1023.5 528.5h2V549.5h-2ZM1026.5 541.5V551.5M1026.5 558.5V560.5M1025.5 551.5h2V558.5h-2ZM1027.5 549.5V559.5M1027.5 560.5V562.5M1026.5 559.5h2V560.5h-2Z" stroke="#ff0000" fill="#ff5050"/>
<path d="M1029.5 548.5V552.5M1029.5 560.5V563.5M1028.5 552.5h2V560.5h-2Z" stroke="#000" fill="none"/>
<path d="M1030.5 551.5V552.5M1030.5 552.5V556.5M1029.5 552.5h2V553.5h-2ZM1031.5 550.5V552.5M1031.5 557.5V558.5M1030.5 552.5h2V557.5h-2ZM1033.5 553.5V557.5M1033.5 558.5V559.5M1032.5 557.5h2V558.5h-2Z" stroke="#ff0000" fill="#ff5050"/>
<path d="M1034.5 551.5V552.5M1034.5 558.5V560.5M1033.5 552.5h2V558.5h-2Z" stroke="#000" fill="none"/>
<path d="M1036.5 557.5V558.5M1035.5 548.5h2V557.5h-2Z" stroke="#ff0000" fill="#ff5050"/>
<path d="M1037.5 544.5V545.5M1037.5 554.5V558.5M1036.5 545.5h2V554.5h-2ZM1039.5 537.5V539.5M1038.5 539.5h2V546.5h-2Z" stroke="#000" fill="none"/>
<path d="M1040.5 538.5V539.5M1039.5 539.5h2V552.5h-2Z" stroke="#ff0000" fill="#ff5050"/>
<path d="M1042.5 544.5V545.5M1042.5 552.5V555.5M1041.5 545.5h2V552.5h-2Z" stroke="#000" fill="none"/>
<path d="M1044.5 543.5V548.5M1044.5 551.5V552.5M1043.5 548.5h2V551.5h-2ZM1045.5 547.5V548.5M1045.5 555.5V558.5M1044.5 548.5h2V555.5h-2ZM1047.5 551.5V554.5M1047.5 556.5V557.5M1046.5 554.5h2V556.5h-2ZM1049.5 563.5V564.5M1048.5 564.5h2V579.5h-2ZM1051.5 582.5V583.5M1050.5 568.5h2V582.5h-2ZM1052.5 574.5V580.5M1052.5 582.5V583.5M1051.5 580.5h2V582.5h-2Z" stroke="#ff0000" fill="#ff5050"/>
<path d="M1054.5 559.5V566.5M1054.5 581.5V585.5M1053.5 566.5h2V581.5h-2ZM1056.5 544.5V546.5M1056.5 568.5V569.5M1055.5 546.5h2V568.5h-2Z" stroke="#000" fill="none"/>
<path d="M1057.5 542.5h2V552.5h-2Z" stroke="#ff0000" fill="#ff5050"/>
<path d="M1059.5 538.5V540.5M1059.5 552.5V553.5M1058.5 540.5h2V552.5h-2Z" stroke="#000" fill="none"/>
<path d="M1060.5 537.5h2V552.5h-2Z" stroke="#ff0000" fill="#ff5050"/>
<path d="M1063.5 529.5V531.5M1062.5 531.5h2V548.5h-2Z" stroke="#000" fill="none"/>
<path d="M1065.5 529.5V531.5M1065.5 541.5V542.5M1064.5 531.5h2V541.5h-2ZM1067.5 546.5V549.5M1066.5 534.5h2V546.5h-2ZM1070.5 543.5V545.5M1070.5 546.5V549.5M1069.5 545.5h2V546.5h-2Z" stroke="#ff0000" fill="#ff5050"/>
<path d="M1072.5 520.5V524.5M1071.5 524.5h2V546.5h-2Z" stroke="#000" fill="none"/>
<path d="M1074.5 522.5V524.5M1074.5 542.5V545.5M1073.5 524.5h2V542.5h-2Z" stroke="#ff0000" fill="#ff5050"/>
<path d="M1076.5 533.5V534.5M1075.5 534.5h2V543.5h-2Z" stroke="#000" fill="none"/>
<path d="M1078.5 534.5V542.5M1078.5 545.5V547.5M1077.5 542.5h2V545.5h-2ZM1080.5 542.5V544.5M1080.5 547.5V548.5M1079.5 544.5h2V547.5h-2Z" stroke="#ff0000" fill="#ff5050"/>
<path d="M1081.5 544.5h2V549.5h-2Z" stroke="#000" fill="none"/>
<path d="M1084.5 545.5V546.5M1083.5 546.5h2V551.5h-2ZM1086.5 545.5V548.5M1086.5 552.5V553.5M1085.5 548.5h2V552.5h-2ZM1087.5 552.5V554.5M1086.5 550.5h2V552.5h-2ZM1088.5 551.5h2V552.5h-2ZM1091.5 549.5V550.5M1091.5 552.5V555.5M1090.5 550.5h2V552.5h-2Z" stroke="#ff0000" fill="#ff5050"/>
<path d="M1093.5 548.5V550.5M1093.5 552.5V553.5M1092.5 550.5h2V552.5h-2Z" stroke="#000" fill="none"/>
<path d="M1095.5 549.5V550.5M1094.5 550.5h2V566.5h-2ZM1096.5 553.5h2V583.5h-2ZM1098.5 577.5h2V588.5h-2Z" stroke="#ff0000" fill="#ff5050"/>
<path d="M1101.5 576.5V578.5M1101.5 588.5V589.5M1100.5 578.5h2V588.5h-2Z" stroke="#000" fill="none"/>
<path d="M1104.5 582.5V583.5M1103.5 572.5h2V582.5h-2Z" stroke="#ff0000" fill="#ff5050"/>
<path d="M1105.5 566.5V569.5M1105.5 582.5V583.5M1104.5 569.5h2V582.5h-2Z" stroke="#000" fill="none"/>
<path d="M1107.5 568.5V569.5M1107.5 580.5V583.5M1106.5 569.5h2V580.5h-2ZM1109.5 585.5V586.5M1108.5 575.5h2V585.5h-2ZM1111.5 583.5V584.5M1110.5 584.5h2V586.5h-2Z" stroke="#ff0000" fill="#ff5050"/>
<path d="M1113.5 587.5V588.5M1112.5 584.5h2V587.5h-2Z" stroke="#000" fill="none"/>
<path d="M1115.5 585.5V586.5M1114.5 586.5h2V598.5h-2Z" stroke="#ff0000" fill="#ff5050"/>
<path d="M1117.5 592.5V595.5M1116.5 595.5h2V598.5h-2Z" stroke="#000" fill="none"/>
<path d="M1119.5 585.5V595.5M1119.5 596.5V597.5M1118.5 595.5h2V596.5h-2Z" stroke="#ff0000" fill="#ff5050"/>
<path d="M1120.5 580.5V582.5M1120.5 593.5V598.5M1119.5 582.5h2V593.5h-2Z" stroke="#000" fill="none"/>
<path d="M1122.5 581.5V582.5M1121.5 582.5h2V591.5h-2ZM1124.5 592.5V593.5M1123.5 585.5h2V592.5h-2ZM1126.5 588.5V590.5M1125.5 590.5h2V592.5h-2Z" stroke="#ff0000" fill="#ff5050"/>
<path d="M1128.5 591.5V593.5M1127.5 583.5h2V591.5h-2ZM1129.5 575.5V576.5M1129.5 586.5V590.5M1128.5 576.5h2V586.5h-2Z" stroke="#000" fill="none"/>
<path d="M1131.5 575.5V576.5M1131.5 587.5V589.5M1130.5 576.5h2V587.5h-2ZM1133.5 594.5V596.5M1132.5 582.5h2V594.5h-2Z" stroke="#ff0000" fill="#ff5050"/>
<path d="M1135.5 590.5V591.5M1135.5 594.5V596.5M1134.5 591.5h2V594.5h-2Z" stroke="#000" fill="none"/>
<path d="M1137.5 589.5V593.5M1137.5 600.5V601.5M1136.5 593.5h2V600.5h-2ZM1138.5 596.5V599.5M1138.5 601.5V602.5M1137.5 599.5h2V601.5h-2Z" stroke="#ff0000" fill="#ff5050"/>
<path d="M1140.5 601.5V602.5M1139.5 592.5h2V601.5h-2ZM1141.5 594.5V596.5M1140.5 591.5h2V594.5h-2ZM1143.5 577.5V578.5M1143.5 593.5V595.5M1142.5 578.5h2V593.5h-2ZM1145.5 579.5V587.5M1144.5 564.5h2V579.5h-2ZM1147.5 559.5V560.5M1147.5 566.5V573.5M1146.5 560.5h2V566.5h-2Z" stroke="#000" fill="none"/>
<path d="M1147.5 557.5h2V570.5h-2Z" stroke="#ff0000" fill="#ff5050"/>
<path d="M1150.5 554.5V556.5M1149.5 556.5h2V564.5h-2Z" stroke="#000" fill="none"/>
<path d="M1152.5 562.5V564.5M1151.5 554.5h2V562.5h-2Z" stroke="#ff0000" fill="#ff5050"/>
<path d="M1154.5 546.5V555.5M1153.5 555.5h2V562.5h-2ZM1156.5 543.5V552.5M1156.5 557.5V559.5M1155.5 552.5h2V557.5h-2Z" stroke="#000" fill="none"/>
<path d="M1157.5 541.5V546.5M1157.5 548.5V556.5M1156.5 546.5h2V548.5h-2Z" stroke="#ff0000" fill="#ff5050"/>
<path d="M1159.5 504.5V508.5M1159.5 545.5V551.5M1158.5 508.5h2V545.5h-2Z" stroke="#000" fill="none"/>
<path d="M1160.5 506.5V508.5M1160.5 508.5V520.5M1159.5 508.5h2V509.5h-2ZM1162.5 507.5V508.5M1161.5 508.5h2V526.5h-2ZM1163.5 518.5h2V534.5h-2Z" stroke="#ff0000" fill="#ff5050"/>
<path d="M1165.5 519.5h2V534.5h-2Z" stroke="#000" fill="none"/>
<path d="M1167.5 514.5V515.5M1167.5 529.5V532.5M1166.5 515.5h2V529.5h-2Z" stroke="#ff0000" fill="#ff5050"/>
<path d="M1169.5 504.5V508.5M1169.5 521.5V530.5M1168.5 508.5h2V521.5h-2Z" stroke="#000" fill="none"/>
<path d="M1170.5 504.5V508.5M1170.5 520.5V521.5M1169.5 508.5h2V520.5h-2Z" stroke="#ff0000" fill="#ff5050"/>
<path d="M1173.5 512.5V513.5M1173.5 520.5V522.5M1172.5 513.5h2V520.5h-2Z" stroke="#000" fill="none"/>
<path d="M1175.5 510.5V514.5M1174.5 514.5h2V522.5h-2Z" stroke="#ff0000" fill="#ff5050"/>
<path d="M1176.5 475.5V485.5M1175.5 485.5h2V493.5h-2ZM1178.5 462.5V465.5M1177.5 465.5h2V487.5h-2Z" stroke="#000" fill="none"/>
<path d="M1180.5 460.5V465.5M1180.5 480.5V481.5M1179.5 465.5h2V480.5h-2Z" stroke="#ff0000" fill="#ff5050"/>
<path d="M1182.5 469.5V472.5M1181.5 472.5h2V481.5h-2Z" stroke="#000" fill="none"/>
<path d="M1183.5 473.5V474.5M1182.5 474.5h2V491.5h-2ZM1185.5 496.5V499.5M1184.5 480.5h2V496.5h-2Z" stroke="#ff0000" fill="#ff5050"/>
<path d="M1187.5 479.5V482.5M1187.5 496.5V497.5M1186.5 482.5h2V496.5h-2Z" stroke="#000" fill="none"/>
<path d="M1189.5 480.5V482.5M1188.5 482.5h2V490.5h-2Z" stroke="#ff0000" fill="#ff5050"/>
<path d="M1191.5 490.5V492.5M1190.5 477.5h2V490.5h-2ZM1192.5 455.5V458.5M1192.5 479.5V482.5M1191.5 458.5h2V479.5h-2Z" stroke="#000" fill="none"/>
<path d="M1194.5 456.5V458.5M1194.5 458.5V464.5M1193.5 458.5h2V459.5h-2ZM1195.5 456.5V458.5M1195.5 480.5V482.5M1194.5 458.5h2V480.5h-2Z" stroke="#ff0000" fill="#ff5050"/>
<path d="M1197.5 467.5V470.5M1197.5 481.5V483.5M1196.5 470.5h2V481.5h-2Z" stroke="#000" fill="none"/>
<path d="M1199.5 468.5V472.5M1199.5 492.5V494.5M1198.5 472.5h2V492.5h-2ZM1201.5 482.5V491.5M1200.5 491.5h2V492.5h-2Z" stroke="#ff0000" fill="#ff5050"/>
<path d="M1202.5 490.5V495.5M1201.5 454.5h2V490.5h-2ZM1204.5 456.5V460.5M1203.5 435.5h2V456.5h-2ZM1205.5 425.5V428.5M1205.5 438.5V440.5M1204.5 428.5h2V438.5h-2Z" stroke="#000" fill="none"/>
<path d="M1206.5 426.5V428.5M1206.5 447.5V448.5M1205.5 428.5h2V447.5h-2ZM1207.5 440.5h2V465.5h-2ZM1211.5 487.5V494.5M1210.5 453.5h2V487.5h-2ZM1213.5 478.5V488.5M1213.5 496.5V497.5M1212.5 488.5h2V496.5h-2Z" stroke="#ff0000" fill="#ff5050"/>
<path d="M1215.5 477.5V478.5M1215.5 496.5V499.5M1214.5 478.5h2V496.5h-2Z" stroke="#000" fill="none"/>
<path d="M1216.5 473.5h2V488.5h-2Z" stroke="#ff0000" fill="#ff5050"/>
<path d="M1219.5 462.5V466.5M1219.5 484.5V486.5M1218.5 466.5h2V484.5h-2Z" stroke="#000" fill="none"/>
<path d="M1221.5 463.5V465.5M1221.5 478.5V482.5M1220.5 465.5h2V478.5h-2Z" stroke="#ff0000" fill="#ff5050"/>
<path d="M1223.5 445.5V446.5M1223.5 478.5V481.5M1222.5 446.5h2V478.5h-2ZM1225.5 431.5V436.5M1225.5 449.5V458.5M1224.5 436.5h2V449.5h-2ZM1226.5 439.5V442.5M1225.5 412.5h2V439.5h-2ZM1228.5 397.5V402.5M1228.5 415.5V421.5M1227.5 402.5h2V415.5h-2Z" stroke="#000" fill="none"/>
<path d="M1228.5 397.5h2V414.5h-2Z" stroke="#ff0000" fill="#ff5050"/>
<path d="M1231.5 383.5V402.5M1230.5 402.5h2V410.5h-2ZM1232.5 363.5V366.5M1232.5 405.5V406.5M1231.5 366.5h2V405.5h-2Z" stroke="#000" fill="none"/>
<path d="M1233.5 354.5h2V382.5h-2Z" stroke="#ff0000" fill="#ff5050"/>
<path d="M1236.5 344.5V345.5M1236.5 378.5V382.5M1235.5 345.5h2V378.5h-2ZM1237.5 312.5V313.5M1237.5 349.5V351.5M1236.5 313.5h2V349.5h-2Z" stroke="#000" fill="none"/>
<path d="M1238.5 341.5V343.5M1237.5 300.5h2V341.5h-2Z" stroke="#ff0000" fill="#ff5050"/>
<path d="M1240.5 283.5V296.5M1240.5 320.5V340.5M1239.5 296.5h2V320.5h-2ZM1242.5 261.5V277.5M1241.5 277.5h2V300.5h-2ZM1243.5 226.5V242.5M1243.5 275.5V282.5M1242.5 242.5h2V275.5h-2ZM1245.5 209.5V221.5M1244.5 221.5h2V247.5h-2ZM1246.5 190.5V192.5M1245.5 192.5h2V227.5h-2Z" stroke="#000" fill="none"/>
<path d="M1248.5 184.5V192.5M1247.5 192.5h2V225.5h-2ZM1248.5 206.5h2V259.5h-2ZM1251.5 276.5V285.5M1250.5 238.5h2V276.5h-2ZM1252.5 330.5V333.5M1251.5 255.5h2V330.5h-2Z" stroke="#ff0000" fill="#ff5050"/>
<path d="M1254.5 297.5V299.5M1253.5 299.5h2V330.5h-2ZM1255.5 264.5V265.5M1255.5 304.5V305.5M1254.5 265.5h2V304.5h-2ZM1257.5 257.5V258.5M1257.5 271.5V276.5M1256.5 258.5h2V271.5h-2Z" stroke="#000" fill="none"/>
<path d="M1258.5 256.5V258.5M1258.5 290.5V294.5M1257.5 258.5h2V290.5h-2Z" stroke="#ff0000" fill="#ff5050"/>
<path d="M1260.5 290.5V294.5M1259.5 269.5h2V290.5h-2Z" stroke="#000" fill="none"/>
<path d="M1262.5 269.5V272.5M1262.5 286.5V302.5M1261.5 272.5h2V286.5h-2ZM1263.5 273.5V283.5M1263.5 323.5V327.5M1262.5 283.5h2V323.5h-2ZM1265.5 310.5V312.5M1264.5 312.5h2V326.5h-2Z" stroke="#ff0000" fill="#ff5050"/>
<path d="M1267.5 326.5V328.5M1266.5 253.5h2V326.5h-2Z" stroke="#000" fill="none"/>
<path d="M1269.5 249.5V250.5M1268.5 250.5h2V293.5h-2ZM1270.5 270.5h2V342.5h-2ZM1274.5 326.5V328.5M1273.5 328.5h2V361.5h-2ZM1275.5 364.5V367.5M1274.5 341.5h2V364.5h-2Z" stroke="#ff0000" fill="#ff5050"/>
<path d="M1277.5 339.5V343.5M1277.5 364.5V366.5M1276.5 343.5h2V364.5h-2ZM1277.5 320.5h2V347.5h-2ZM1280.5 311.5V316.5M1280.5 325.5V332.5M1279.5 316.5h2V325.5h-2Z" stroke="#000" fill="none"/>
<path d="M1282.5 314.5V316.5M1282.5 362.5V369.5M1281.5 316.5h2V362.5h-2ZM1284.5 336.5V365.5M1283.5 365.5h2V368.5h-2Z" stroke="#ff0000" fill="#ff5050"/>
<path d="M1286.5 344.5V349.5M1286.5 368.5V371.5M1285.5 349.5h2V368.5h-2Z" stroke="#000" fill="none"/>
<path d="M1288.5 344.5V350.5M1287.5 350.5h2V370.5h-2Z" stroke="#ff0000" fill="#ff5050"/>
<path d="M1290.5 355.5V356.5M1289.5 356.5h2V370.5h-2Z" stroke="#000" fill="none"/>
<path d="M1292.5 355.5V356.5M1292.5 380.5V385.5M1291.5 356.5h2V380.5h-2Z" stroke="#ff0000" fill="#ff5050"/>
<path d="M1294.5 380.5V385.5M1293.5 339.5h2V380.5h-2ZM1296.5 345.5V355.5M1295.5 276.5h2V345.5h-2ZM1297.5 281.5V303.5M1296.5 258.5h2V281.5h-2ZM1299.5 220.5V225.5M1299.5 262.5V268.5M1298.5 225.5h2V262.5h-2Z" stroke="#000" fill="none"/>
<path d="M1300.5 217.5V222.5M1300.5 225.5V244.5M1299.5 222.5h2V225.5h-2ZM1302.5 221.5V222.5M1302.5 250.5V253.5M1301.5 222.5h2V250.5h-2Z" stroke="#ff0000" fill="#ff5050"/>
<path d="M1304.5 227.5V230.5M1304.5 250.5V253.5M1303.5 230.5h2V250.5h-2Z" stroke="#000" fill="none"/>
<path d="M1306.5 229.5V230.5M1306.5 244.5V245.5M1305.5 230.5h2V244.5h-2Z" stroke="#ff0000" fill="#ff5050"/>
<path d="M1308.5 218.5V224.5M1308.5 244.5V245.5M1307.5 224.5h2V244.5h-2Z" stroke="#000" fill="none"/>
<path d="M1311.5 223.5V224.5M1311.5 234.5V254.5M1310.5 224.5h2V234.5h-2ZM1313.5 225.5V235.5M1313.5 287.5V294.5M1312.5 235.5h2V287.5h-2ZM1315.5 274.5V289.5M1315.5 292.5V293.5M1314.5 289.5h2V292.5h-2Z" stroke="#ff0000" fill="#ff5050"/>
<path d="M1317.5 267.5V268.5M1317.5 292.5V293.5M1316.5 268.5h2V292.5h-2Z" stroke="#000" fill="none"/>
<path d="M1319.5 262.5V268.5M1319.5 303.5V315.5M1318.5 268.5h2V303.5h-2ZM1321.5 292.5V307.5M1321.5 310.5V314.5M1320.5 307.5h2V310.5h-2Z" stroke="#ff0000" fill="#ff5050"/>
<path d="M1322.5 293.5V295.5M1322.5 310.5V314.5M1321.5 295.5h2V310.5h-2ZM1324.5 290.5V292.5M1324.5 299.5V303.5M1323.5 292.5h2V299.5h-2ZM1326.5 283.5V290.5M1325.5 290.5h2V296.5h-2Z" stroke="#000" fill="none"/>
<path d="M1328.5 287.5V290.5M1328.5 338.5V340.5M1327.5 290.5h2V338.5h-2ZM1330.5 313.5V328.5M1329.5 328.5h2V359.5h-2ZM1330.5 338.5h2V362.5h-2Z" stroke="#ff0000" fill="#ff5050"/>
<path d="M1333.5 330.5V339.5M1333.5 362.5V367.5M1332.5 339.5h2V362.5h-2Z" stroke="#000" fill="none"/>
<path d="M1334.5 327.5h2V354.5h-2Z" stroke="#ff0000" fill="#ff5050"/>
<path d="M1337.5 318.5V327.5M1337.5 341.5V350.5M1336.5 327.5h2V341.5h-2ZM1339.5 292.5V298.5M1338.5 298.5h2V330.5h-2ZM1341.5 271.5V278.5M1341.5 301.5V306.5M1340.5 278.5h2V301.5h-2Z" stroke="#000" fill="none"/>
<path d="M1343.5 273.5V278.5M1342.5 278.5h2V311.5h-2ZM1345.5 320.5V325.5M1344.5 294.5h2V320.5h-2Z" stroke="#ff0000" fill="#ff5050"/>
<path d="M1346.5 300.5V304.5M1346.5 321.5V326.5M1345.5 304.5h2V321.5h-2Z" stroke="#000" fill="none"/>
<path d="M1348.5 303.5V304.5M1348.5 336.5V337.5M1347.5 304.5h2V336.5h-2Z" stroke="#ff0000" fill="#ff5050"/>
<path d="M1350.5 320.5V325.5M1350.5 336.5V340.5M1349.5 325.5h2V336.5h-2Z" stroke="#000" fill="none"/>
<path d="M1352.5 322.5V326.5M1352.5 366.5V367.5M1351.5 326.5h2V366.5h-2ZM1352.5 404.5V408.5M1352.5 458.5V459.5M1351.5 408.5h2V458.5h-2Z" stroke="#ff0000" fill="#ff5050"/>
<path d="M1354.5 459.5V460.5M1353.5 438.5h2V459.5h-2Z" stroke="#000" fill="none"/>
<path d="M1355.5 439.5V440.5M1355.5 468.5V469.5M1354.5 440.5h2V468.5h-2Z" stroke="#ff0000" fill="#ff5050"/>
<path d="M1357.5 468.5V469.5M1356.5 431.5h2V468.5h-2ZM1359.5 404.5V405.5M1359.5 436.5V443.5M1358.5 405.5h2V436.5h-2Z" stroke="#000" fill="none"/>
<path d="M1361.5 400.5V405.5M1360.5 405.5h2V430.5h-2Z" stroke="#ff0000" fill="#ff5050"/>
<path d="M1363.5 413.5V416.5M1362.5 416.5h2V430.5h-2Z" stroke="#000" fill="none"/>
<path d="M1365.5 415.5V416.5M1365.5 432.5V433.5M1364.5 416.5h2V432.5h-2Z" stroke="#ff0000" fill="#ff5050"/>
<path d="M1367.5 398.5V400.5M1367.5 432.5V434.5M1366.5 400.5h2V432.5h-2Z" stroke="#000" fill="none"/>
<path d="M1369.5 398.5V400.5M1368.5 400.5h2V443.5h-2ZM1372.5 448.5V451.5M1371.5 421.5h2V448.5h-2Z" stroke="#ff0000" fill="#ff5050"/>
<path d="M1374.5 435.5V438.5M1374.5 450.5V452.5M1373.5 438.5h2V450.5h-2Z" stroke="#000" fill="none"/>
<path d="M1376.5 437.5V438.5M1376.5 463.5V466.5M1375.5 438.5h2V463.5h-2ZM1378.5 480.5V481.5M1377.5 452.5h2V480.5h-2Z" stroke="#ff0000" fill="#ff5050"/>
<path d="M1380.5 461.5V462.5M1380.5 480.5V481.5M1379.5 462.5h2V480.5h-2Z" stroke="#000" fill="none"/>
<path d="M1382.5 461.5V462.5M1382.5 476.5V478.5M1381.5 462.5h2V476.5h-2Z" stroke="#ff0000" fill="#ff5050"/>
<path d="M1384.5 460.5V465.5M1384.5 476.5V480.5M1383.5 465.5h2V476.5h-2ZM1386.5 439.5V448.5M1385.5 448.5h2V468.5h-2ZM1388.5 415.5V425.5M1387.5 425.5h2V450.5h-2Z" stroke="#000" fill="none"/>
<path d="M1390.5 417.5V418.5M1390.5 420.5V436.5M1389.5 418.5h2V420.5h-2ZM1392.5 413.5V418.5M1392.5 427.5V436.5M1391.5 418.5h2V427.5h-2ZM1394.5 422.5V424.5M1393.5 424.5h2V462.5h-2ZM1396.5 441.5V446.5M1396.5 468.5V471.5M1395.5 446.5h2V468.5h-2Z" stroke="#ff0000" fill="#ff5050"/>
<path d="M1398.5 468.5V469.5M1397.5 450.5h2V468.5h-2Z" stroke="#000" fill="none"/>
<path d="M1400.5 464.5V465.5M1399.5 449.5h2V464.5h-2ZM1402.5 438.5V463.5M1401.5 463.5h2V464.5h-2Z" stroke="#ff0000" fill="#ff5050"/>
<path d="M1404.5 413.5V416.5M1404.5 454.5V465.5M1403.5 416.5h2V454.5h-2ZM1406.5 408.5V412.5M1406.5 415.5V424.5M1405.5 412.5h2V415.5h-2Z" stroke="#000" fill="none"/>
<path d="M1408.5 411.5V412.5M1407.5 412.5h2V436.5h-2ZM1411.5 448.5V452.5M1410.5 421.5h2V448.5h-2Z" stroke="#ff0000" fill="#ff5050"/>
<path d="M1413.5 418.5V420.5M1413.5 448.5V451.5M1412.5 420.5h2V448.5h-2ZM1414.5 416.5V418.5M1414.5 424.5V430.5M1413.5 418.5h2V424.5h-2Z" stroke="#000" fill="none"/>
<path d="M1416.5 416.5V418.5M1415.5 418.5h2V448.5h-2ZM1418.5 462.5V465.5M1417.5 429.5h2V462.5h-2Z" stroke="#ff0000" fill="#ff5050"/>
<path d="M1419.5 462.5V465.5M1418.5 439.5h2V462.5h-2ZM1421.5 405.5V406.5M1421.5 442.5V444.5M1420.5 406.5h2V442.5h-2ZM1422.5 371.5V376.5M1421.5 376.5h2V410.5h-2ZM1423.5 297.5V298.5M1423.5 322.5V324.5M1422.5 298.5h2V322.5h-2Z" stroke="#000" fill="none"/>
<path d="M1425.5 294.5V298.5M1425.5 342.5V350.5M1424.5 298.5h2V342.5h-2ZM1427.5 323.5V335.5M1427.5 354.5V359.5M1426.5 335.5h2V354.5h-2Z" stroke="#ff0000" fill="#ff5050"/>
<path d="M1429.5 298.5V318.5M1428.5 318.5h2V354.5h-2Z" stroke="#000" fill="none"/>
<path d="M1431.5 298.5V304.5M1431.5 305.5V344.5M1430.5 304.5h2V305.5h-2ZM1432.5 292.5h2V323.5h-2Z" stroke="#ff0000" fill="#ff5050"/>
<path d="M1435.5 312.5V317.5M1434.5 273.5h2V312.5h-2ZM1436.5 250.5V257.5M1436.5 278.5V280.5M1435.5 257.5h2V278.5h-2ZM1438.5 241.5V248.5M1437.5 248.5h2V262.5h-2Z" stroke="#000" fill="none"/>
<path d="M1439.5 243.5V248.5M1438.5 248.5h2V272.5h-2Z" stroke="#ff0000" fill="#ff5050"/>
<path d="M1441.5 242.5V255.5M1440.5 255.5h2V272.5h-2ZM1442.5 227.5V233.5M1442.5 260.5V261.5M1441.5 233.5h2V260.5h-2Z" stroke="#000" fill="none"/>
<path d="M1444.5 191.5V219.5M1444.5 252.5V256.5M1443.5 219.5h2V252.5h-2Z" stroke="#ff0000" fill="#ff5050"/>
<path d="M1446.5 200.5V203.5M1445.5 203.5h2V252.5h-2Z" stroke="#000" fill="none"/>
<path d="M1448.5 193.5V198.5M1448.5 202.5V235.5M1447.5 198.5h2V202.5h-2ZM1449.5 195.5V198.5M1448.5 198.5h2V239.5h-2ZM1451.5 215.5V222.5M1450.5 222.5h2V269.5h-2Z" stroke="#ff0000" fill="#ff5050"/>
<path d="M1453.5 238.5V242.5M1453.5 266.5V291.5M1452.5 242.5h2V266.5h-2Z" stroke="#000" fill="none"/>
<path d="M1455.5 240.5V268.5M1455.5 312.5V313.5M1454.5 268.5h2V312.5h-2Z" stroke="#ff0000" fill="#ff5050"/>
<path d="M1457.5 281.5V288.5M1457.5 312.5V313.5M1456.5 288.5h2V312.5h-2Z" stroke="#000" fill="none"/>
<path d="M1458.5 287.5V288.5M1458.5 289.5V302.5M1457.5 288.5h2V289.5h-2ZM1459.5 287.5V288.5M1458.5 288.5h2V310.5h-2Z" stroke="#ff0000" fill="#ff5050"/>
<path d="M1461.5 310.5V312.5M1460.5 277.5h2V310.5h-2Z" stroke="#000" fill="none"/>
<path d="M1463.5 260.5V263.5M1462.5 263.5h2V300.5h-2ZM1465.5 251.5V278.5M1465.5 313.5V321.5M1464.5 278.5h2V313.5h-2Z" stroke="#ff0000" fill="#ff5050"/>
<path d="M1468.5 298.5V312.5M1468.5 321.5V326.5M1467.5 312.5h2V321.5h-2Z" stroke="#000" fill="none"/>
<path d="M1469.5 342.5V343.5M1468.5 308.5h2V342.5h-2Z" stroke="#ff0000" fill="#ff5050"/>
<path d="M1471.5 342.5V346.5M1470.5 293.5h2V342.5h-2ZM1473.5 286.5V290.5M1473.5 299.5V302.5M1472.5 290.5h2V299.5h-2Z" stroke="#000" fill="none"/>
<path d="M1474.5 287.5V290.5M1474.5 318.5V319.5M1473.5 290.5h2V318.5h-2ZM1476.5 302.5V317.5M1476.5 319.5V323.5M1475.5 317.5h2V319.5h-2ZM1477.5 329.5V335.5M1476.5 309.5h2V329.5h-2ZM1479.5 319.5V323.5M1479.5 334.5V342.5M1478.5 323.5h2V334.5h-2ZM1481.5 323.5V333.5M1481.5 356.5V359.5M1480.5 333.5h2V356.5h-2Z" stroke="#ff0000" fill="#ff5050"/>
<path d="M1482.5 332.5V337.5M1482.5 356.5V358.5M1481.5 337.5h2V356.5h-2ZM1484.5 309.5V314.5M1483.5 314.5h2V342.5h-2Z" stroke="#000" fill="none"/>
<path d="M1485.5 375.5V380.5M1484.5 380.5h2V422.5h-2ZM1487.5 407.5V408.5M1487.5 432.5V433.5M1486.5 408.5h2V432.5h-2Z" stroke="#ff0000" fill="#ff5050"/>
<path d="M1489.5 404.5V408.5M1488.5 408.5h2V432.5h-2Z" stroke="#000" fill="none"/>
<path d="M1491.5 406.5V408.5M1491.5 428.5V432.5M1490.5 408.5h2V428.5h-2Z" stroke="#ff0000" fill="#ff5050"/>
<path d="M1493.5 393.5V396.5M1493.5 428.5V432.5M1492.5 396.5h2V428.5h-2Z" stroke="#000" fill="none"/>
<path d="M1495.5 393.5V396.5M1495.5 420.5V424.5M1494.5 396.5h2V420.5h-2Z" stroke="#ff0000" fill="#ff5050"/>
<path d="M1497.5 402.5V404.5M1497.5 420.5V421.5M1496.5 404.5h2V420.5h-2Z" stroke="#000" fill="none"/>
<path d="M1499.5 400.5V404.5M1498.5 404.5h2V432.5h-2ZM1499.5 412.5h2V451.5h-2ZM1502.5 431.5V441.5M1501.5 441.5h2V474.5h-2ZM1504.5 461.5V465.5M1504.5 484.5V486.5M1503.5 465.5h2V484.5h-2Z" stroke="#ff0000" fill="#ff5050"/>
<path d="M1506.5 473.5V474.5M1506.5 485.5V486.5M1505.5 474.5h2V485.5h-2Z" stroke="#000" fill="none"/>
<path d="M1507.5 475.5V476.5M1506.5 476.5h2V515.5h-2ZM1509.5 540.5V541.5M1508.5 503.5h2V540.5h-2Z" stroke="#ff0000" fill="#ff5050"/>
<path d="M1511.5 541.5V542.5M1510.5 532.5h2V541.5h-2Z" stroke="#000" fill="none"/>
<path d="M1513.5 533.5V534.5M1513.5 546.5V548.5M1512.5 534.5h2V546.5h-2Z" stroke="#ff0000" fill="#ff5050"/>
<path d="M1515.5 533.5V537.5M1515.5 546.5V548.5M1514.5 537.5h2V546.5h-2ZM1517.5 518.5V529.5M1517.5 539.5V540.5M1516.5 529.5h2V539.5h-2ZM1519.5 511.5V512.5M1519.5 529.5V533.5M1518.5 512.5h2V529.5h-2Z" stroke="#000" fill="none"/>
<path d="M1521.5 510.5V512.5M1520.5 512.5h2V528.5h-2Z" stroke="#ff0000" fill="#ff5050"/>
<path d="M1523.5 520.5V522.5M1522.5 522.5h2V529.5h-2Z" stroke="#000" fill="none"/>
<path d="M1525.5 520.5V524.5M1525.5 546.5V549.5M1524.5 524.5h2V546.5h-2Z" stroke="#ff0000" fill="#ff5050"/>
<path d="M1526.5 538.5h2V547.5h-2Z" stroke="#000" fill="none"/>
<path d="M1529.5 539.5V540.5M1528.5 540.5h2V558.5h-2ZM1531.5 579.5V580.5M1531.5 610.5V612.5M1530.5 580.5h2V610.5h-2Z" stroke="#ff0000" fill="#ff5050"/>
<path d="M1532.5 578.5V580.5M1532.5 610.5V612.5M1531.5 580.5h2V610.5h-2Z" stroke="#000" fill="none"/>
<path d="M1534.5 578.5V580.5M1533.5 580.5h2V597.5h-2Z" stroke="#ff0000" fill="#ff5050"/>
<path d="M1535.5 584.5h2V592.5h-2Z" stroke="#000" fill="none"/>
<path d="M1538.5 584.5V586.5M1538.5 594.5V596.5M1537.5 586.5h2V594.5h-2ZM1540.5 591.5V592.5M1539.5 592.5h2V594.5h-2Z" stroke="#ff0000" fill="#ff5050"/>
<path d="M1541.5 565.5V572.5M1541.5 593.5V594.5M1540.5 572.5h2V593.5h-2ZM1543.5 554.5V556.5M1542.5 556.5h2V574.5h-2Z" stroke="#000" fill="none"/>
<path d="M1545.5 554.5V556.5M1544.5 556.5h2V564.5h-2Z" stroke="#ff0000" fill="#ff5050"/>
<path d="M1547.5 564.5V565.5M1546.5 548.5h2V564.5h-2ZM1548.5 546.5V548.5M1548.5 550.5V554.5M1547.5 548.5h2V550.5h-2Z" stroke="#000" fill="none"/>
<path d="M1550.5 546.5V548.5M1549.5 548.5h2V560.5h-2ZM1552.5 553.5V559.5M1552.5 560.5V562.5M1551.5 559.5h2V560.5h-2Z" stroke="#ff0000" fill="#ff5050"/>
<path d="M1553.5 496.5V497.5M1553.5 559.5V562.5M1552.5 497.5h2V559.5h-2ZM1554.5 500.5V504.5M1553.5 463.5h2V500.5h-2ZM1555.5 408.5V410.5M1555.5 467.5V470.5M1554.5 410.5h2V467.5h-2Z" stroke="#000" fill="none"/>
<path d="M1557.5 405.5V410.5M1556.5 410.5h2V442.5h-2ZM1559.5 458.5V459.5M1558.5 425.5h2V458.5h-2Z" stroke="#ff0000" fill="#ff5050"/>
<path d="M1560.5 418.5V425.5M1560.5 458.5V462.5M1559.5 425.5h2V458.5h-2ZM1562.5 415.5V418.5M1562.5 423.5V434.5M1561.5 418.5h2V423.5h-2ZM1564.5 412.5V414.5M1563.5 414.5h2V421.5h-2Z" stroke="#000" fill="none"/>
<path d="M1565.5 413.5V414.5M1565.5 440.5V444.5M1564.5 414.5h2V440.5h-2Z" stroke="#ff0000" fill="#ff5050"/>
<path d="M1567.5 417.5V418.5M1567.5 440.5V444.5M1566.5 418.5h2V440.5h-2Z" stroke="#000" fill="none"/>
<path d="M1569.5 413.5V418.5M1569.5 419.5V427.5M1568.5 418.5h2V419.5h-2ZM1571.5 415.5V420.5M1571.5 455.5V456.5M1570.5 420.5h2V455.5h-2ZM1573.5 451.5V455.5M1573.5 456.5V460.5M1572.5 455.5h2V456.5h-2Z" stroke="#ff0000" fill="#ff5050"/>
<path d="M1575.5 437.5V441.5M1575.5 456.5V459.5M1574.5 441.5h2V456.5h-2ZM1576.5 398.5V400.5M1576.5 444.5V447.5M1575.5 400.5h2V444.5h-2Z" stroke="#000" fill="none"/>
<path d="M1578.5 399.5V400.5M1578.5 401.5V404.5M1577.5 400.5h2V401.5h-2ZM1580.5 397.5V401.5M1580.5 447.5V457.5M1579.5 401.5h2V447.5h-2ZM1583.5 437.5V450.5M1582.5 450.5h2V467.5h-2ZM1584.5 449.5V458.5M1584.5 492.5V495.5M1583.5 458.5h2V492.5h-2Z" stroke="#ff0000" fill="#ff5050"/>
<path d="M1586.5 463.5V480.5M1586.5 492.5V493.5M1585.5 480.5h2V492.5h-2ZM1588.5 447.5V448.5M1587.5 448.5h2V482.5h-2Z" stroke="#000" fill="none"/>
<path d="M1589.5 441.5h2V460.5h-2Z" stroke="#ff0000" fill="#ff5050"/>
<path d="M1592.5 429.5V430.5M1592.5 456.5V457.5M1591.5 430.5h2V456.5h-2Z" stroke="#000" fill="none"/>
<path d="M1594.5 427.5V430.5M1594.5 446.5V447.5M1593.5 430.5h2V446.5h-2Z" stroke="#ff0000" fill="#ff5050"/>
<path d="M1596.5 425.5V431.5M1596.5 446.5V447.5M1595.5 431.5h2V446.5h-2ZM1597.5 397.5V408.5M1596.5 408.5h2V434.5h-2ZM1599.5 361.5V364.5M1598.5 364.5h2V413.5h-2ZM1600.5 345.5V346.5M1600.5 367.5V368.5M1599.5 346.5h2V367.5h-2ZM1602.5 288.5V290.5M1602.5 350.5V352.5M1601.5 290.5h2V350.5h-2ZM1603.5 277.5V280.5M1603.5 293.5V308.5M1602.5 280.5h2V293.5h-2Z" stroke="#000" fill="none"/>
<path d="M1606.5 238.5V240.5M1606.5 260.5V263.5M1605.5 240.5h2V260.5h-2ZM1607.5 242.5V246.5M1607.5 272.5V274.5M1606.5 246.5h2V272.5h-2Z" stroke="#ff0000" fill="#ff5050"/>
<path d="M1608.5 248.5V252.5M1607.5 252.5h2V272.5h-2ZM1610.5 209.5V236.5M1610.5 257.5V259.5M1609.5 236.5h2V257.5h-2Z" stroke="#000" fill="none"/>
<path d="M1611.5 219.5V221.5M1610.5 221.5h2V250.5h-2Z" stroke="#ff0000" fill="#ff5050"/>
<path d="M1613.5 251.5V253.5M1612.5 244.5h2V251.5h-2Z" stroke="#000" fill="none"/>
<path d="M1615.5 243.5V246.5M1614.5 246.5h2V278.5h-2ZM1617.5 267.5V276.5M1617.5 278.5V281.5M1616.5 276.5h2V278.5h-2Z" stroke="#ff0000" fill="#ff5050"/>
<path d="M1619.5 221.5V224.5M1619.5 275.5V283.5M1618.5 224.5h2V275.5h-2ZM1620.5 187.5V195.5M1619.5 195.5h2V230.5h-2Z" stroke="#000" fill="none"/>
<path d="M1622.5 170.5V171.5M1621.5 149.5h2V170.5h-2Z" stroke="#ff0000" fill="#ff5050"/>
<path d="M1623.5 170.5V172.5M1622.5 95.5h2V170.5h-2Z" stroke="#000" fill="none"/>
<path d="M1624.5 133.5V150.5M1623.5 87.5h2V133.5h-2ZM1625.5 71.5V106.5M1624.5 106.5h2V149.5h-2ZM1627.5 117.5V119.5M1626.5 119.5h2V168.5h-2ZM1627.5 132.5h2V182.5h-2Z" stroke="#ff0000" fill="#ff5050"/>
<path d="M1630.5 99.5V100.5M1630.5 182.5V184.5M1629.5 100.5h2V182.5h-2ZM1631.5 65.5V68.5M1631.5 106.5V152.5M1630.5 68.5h2V106.5h-2Z" stroke="#000" fill="none"/>
<path d="M1632.5 66.5V68.5M1631.5 68.5h2V148.5h-2Z" stroke="#ff0000" fill="#ff5050"/>
<path d="M1634.5 99.5V116.5M1633.5 116.5h2V130.5h-2Z" stroke="#000" fill="none"/>
<path d="M1636.5 150.5V153.5M1635.5 111.5h2V150.5h-2Z" stroke="#ff0000" fill="#ff5050"/>
<path d="M1638.5 127.5V128.5M1638.5 153.5V155.5M1637.5 128.5h2V153.5h-2Z" stroke="#000" fill="none"/>
<path d="M1639.5 124.5V128.5M1639.5 160.5V166.5M1638.5 128.5h2V160.5h-2Z" stroke="#ff0000" fill="#ff5050"/>
<path d="M1641.5 160.5V167.5M1640.5 136.5h2V160.5h-2Z" stroke="#000" fill="none"/>
<path d="M1643.5 156.5V159.5M1642.5 128.5h2V156.5h-2Z" stroke="#ff0000" fill="#ff5050"/>
<path d="M1644.5 87.5V94.5M1644.5 156.5V159.5M1643.5 94.5h2V156.5h-2Z" stroke="#000" fill="none"/>
<path d="M1646.5 90.5V94.5M1645.5 94.5h2V136.5h-2Z" stroke="#ff0000" fill="#ff5050"/>
<path d="M1646.5 101.5h2V120.5h-2Z" stroke="#000" fill="none"/>
<path d="M1649.5 103.5V104.5M1648.5 104.5h2V155.5h-2ZM1651.5 125.5V132.5M1651.5 156.5V169.5M1650.5 132.5h2V156.5h-2ZM1652.5 141.5V142.5M1652.5 174.5V194.5M1651.5 142.5h2V174.5h-2ZM1654.5 166.5V171.5M1653.5 171.5h2V216.5h-2ZM1655.5 185.5V214.5M1655.5 216.5V223.5M1654.5 214.5h2V216.5h-2Z" stroke="#ff0000" fill="#ff5050"/>
<path d="M1657.5 165.5V166.5M1657.5 208.5V217.5M1656.5 166.5h2V208.5h-2Z" stroke="#000" fill="none"/>
<path d="M1657.5 146.5h2V185.5h-2Z" stroke="#ff0000" fill="#ff5050"/>
<path d="M1660.5 176.5V181.5M1659.5 111.5h2V176.5h-2ZM1661.5 79.5V84.5M1661.5 120.5V130.5M1660.5 84.5h2V120.5h-2Z" stroke="#000" fill="none"/>
<path d="M1663.5 75.5V84.5M1662.5 84.5h2V127.5h-2ZM1665.5 107.5V118.5M1664.5 118.5h2V157.5h-2ZM1666.5 133.5h2V196.5h-2ZM1668.5 216.5V220.5M1667.5 174.5h2V216.5h-2Z" stroke="#ff0000" fill="#ff5050"/>
<path d="M1670.5 188.5V193.5M1670.5 216.5V218.5M1669.5 193.5h2V216.5h-2Z" stroke="#000" fill="none"/>
<path d="M1671.5 188.5V196.5M1671.5 197.5V227.5M1670.5 196.5h2V197.5h-2ZM1673.5 192.5V201.5M1673.5 240.5V243.5M1672.5 201.5h2V240.5h-2Z" stroke="#ff0000" fill="#ff5050"/>
<path d="M1674.5 184.5V186.5M1674.5 240.5V245.5M1673.5 186.5h2V240.5h-2Z" stroke="#000" fill="none"/>
<path d="M1676.5 174.5V178.5M1676.5 201.5V210.5M1675.5 178.5h2V201.5h-2ZM1679.5 182.5V184.5M1679.5 200.5V234.5M1678.5 184.5h2V200.5h-2ZM1680.5 189.5V214.5M1679.5 214.5h2V259.5h-2ZM1682.5 232.5V238.5M1681.5 238.5h2V275.5h-2ZM1683.5 255.5h2V300.5h-2Z" stroke="#ff0000" fill="#ff5050"/>
<path d="M1685.5 259.5V266.5M1685.5 300.5V302.5M1684.5 266.5h2V300.5h-2Z" stroke="#000" fill="none"/>
<path d="M1687.5 263.5V266.5M1687.5 284.5V293.5M1686.5 266.5h2V284.5h-2ZM1689.5 269.5V270.5M1688.5 270.5h2V339.5h-2ZM1690.5 319.5h2V354.5h-2ZM1693.5 384.5V388.5M1692.5 335.5h2V384.5h-2ZM1695.5 359.5V373.5M1695.5 398.5V399.5M1694.5 373.5h2V398.5h-2Z" stroke="#ff0000" fill="#ff5050"/>
<path d="M1697.5 398.5V403.5M1696.5 368.5h2V398.5h-2ZM1699.5 351.5V354.5M1699.5 372.5V373.5M1698.5 354.5h2V372.5h-2Z" stroke="#000" fill="none"/>
<path d="M1701.5 352.5V354.5M1701.5 394.5V395.5M1700.5 354.5h2V394.5h-2Z" stroke="#ff0000" fill="#ff5050"/>
<path d="M1703.5 364.5V365.5M1703.5 394.5V396.5M1702.5 365.5h2V394.5h-2ZM1705.5 352.5V354.5M1705.5 367.5V377.5M1704.5 354.5h2V367.5h-2ZM1707.5 322.5V324.5M1707.5 356.5V365.5M1706.5 324.5h2V356.5h-2ZM1709.5 306.5V308.5M1709.5 326.5V337.5M1708.5 308.5h2V326.5h-2Z" stroke="#000" fill="none"/>
<path d="M1710.5 304.5V308.5M1709.5 308.5h2V335.5h-2ZM1712.5 376.5V382.5M1711.5 320.5h2V376.5h-2ZM1714.5 349.5V366.5M1714.5 392.5V395.5M1713.5 366.5h2V392.5h-2Z" stroke="#ff0000" fill="#ff5050"/>
<path d="M1716.5 357.5V358.5M1716.5 392.5V393.5M1715.5 358.5h2V392.5h-2Z" stroke="#000" fill="none"/>
<path d="M1718.5 353.5V358.5M1717.5 358.5h2V378.5h-2Z" stroke="#ff0000" fill="#ff5050"/>
<path d="M1721.5 361.5V362.5M1721.5 376.5V378.5M1720.5 362.5h2V376.5h-2Z" stroke="#000" fill="none"/>
<path d="M1723.5 372.5V374.5M1722.5 355.5h2V372.5h-2Z" stroke="#ff0000" fill="#ff5050"/>
<path d="M1724.5 333.5h2V372.5h-2ZM1727.5 318.5V320.5M1727.5 339.5V347.5M1726.5 320.5h2V339.5h-2Z" stroke="#000" fill="none"/>
<path d="M1729.5 318.5V320.5M1728.5 320.5h2V346.5h-2Z" stroke="#ff0000" fill="#ff5050"/>
<path d="M1731.5 316.5V331.5M1731.5 346.5V347.5M1730.5 331.5h2V346.5h-2ZM1733.5 302.5V308.5M1733.5 334.5V337.5M1732.5 308.5h2V334.5h-2Z" stroke="#000" fill="none"/>
<path d="M1735.5 303.5V308.5M1735.5 335.5V337.5M1734.5 308.5h2V335.5h-2ZM1736.5 317.5h2V361.5h-2ZM1738.5 342.5h2V369.5h-2ZM1740.5 394.5V395.5M1739.5 353.5h2V394.5h-2Z" stroke="#ff0000" fill="#ff5050"/>
<path d="M1742.5 361.5V363.5M1742.5 391.5V395.5M1741.5 363.5h2V391.5h-2Z" stroke="#000" fill="none"/>
<path d="M1743.5 360.5V362.5M1743.5 363.5V388.5M1742.5 362.5h2V363.5h-2ZM1745.5 359.5V362.5M1744.5 362.5h2V406.5h-2ZM1746.5 388.5V391.5M1746.5 412.5V414.5M1745.5 391.5h2V412.5h-2ZM1747.5 464.5V468.5M1746.5 468.5h2V506.5h-2ZM1749.5 487.5V489.5M1748.5 489.5h2V510.5h-2ZM1750.5 546.5V548.5M1749.5 493.5h2V546.5h-2Z" stroke="#ff0000" fill="#ff5050"/>
<path d="M1751.5 507.5V510.5M1751.5 546.5V549.5M1750.5 510.5h2V546.5h-2Z" stroke="#000" fill="none"/>
<path d="M1753.5 509.5V510.5M1753.5 538.5V541.5M1752.5 510.5h2V538.5h-2Z" stroke="#ff0000" fill="#ff5050"/>
<path d="M1755.5 517.5V518.5M1754.5 518.5h2V538.5h-2Z" stroke="#000" fill="none"/>
<path d="M1757.5 516.5V518.5M1756.5 518.5h2V532.5h-2ZM1759.5 536.5V538.5M1758.5 521.5h2V536.5h-2Z" stroke="#ff0000" fill="#ff5050"/>
<path d="M1761.5 527.5V530.5M1761.5 536.5V538.5M1760.5 530.5h2V536.5h-2Z" stroke="#000" fill="none"/>
<path d="M7.5 790.5V799.5M421.5 667.5V680.5M508.5 378.5V516.5M583.5 196.5V215.5M650.5 170.5V212.5M788.5 665.5V683.5M842.5 600.5V617.5M1253.5 320.5V351.5M1276.5 360.5V383.5M1302.5 207.5V224.5M1422.5 367.5V380.5M1443.5 187.5V200.5M1449.5 186.5V200.5M1454.5 300.5V346.5M1464.5 243.5V256.5M1483.5 294.5V314.5M1484.5 376.5V458.5M1510.5 540.5V559.5M1577.5 382.5V400.5M1604.5 256.5V280.5M1628.5 176.5V190.5M1709.5 292.5V308.5M1734.5 299.5V310.5M1747.5 462.5V470.5M1751.5 544.5V563.5" stroke="#000" fill="none"/>
<path d="M412.5 677.5V700.5M444.5 600.5V623.5M500.5 141.5V178.5M505.5 431.5V530.5M529.5 543.5V571.5M549.5 556.5V569.5M596.5 366.5V413.5M617.5 141.5V182.5M643.5 186.5V214.5M656.5 228.5V256.5M668.5 232.5V265.5M676.5 334.5V373.5M685.5 400.5V498.5M706.5 420.5V475.5M764.5 530.5V569.5M875.5 640.5V653.5M982.5 610.5V625.5M1028.5 556.5V566.5M1098.5 584.5V592.5M1130.5 567.5V580.5M1205.5 410.5V430.5M1284.5 366.5V389.5M1322.5 306.5V322.5M1331.5 356.5V390.5M1352.5 450.5V494.5M1377.5 474.5V497.5M1424.5 292.5V300.5M1445.5 250.5V278.5M1469.5 336.5V371.5M1531.5 604.5V618.5M1654.5 210.5V228.5M1670.5 220.5V251.5M1676.5 161.5V180.5M1682.5 300.5V346.5M1695.5 396.5V422.5M1702.5 390.5V407.5M1746.5 410.5V419.5" stroke="#ff0000" fill="none"/>
<path d="M172 163.7L911 0.5" stroke="#008080" stroke-width="1" fill="none"/>
<path d="M176.5 839L1832 461.4" stroke="#008000" stroke-width="1" fill="none"/>
<path d="M183 835.5L1832 835.5" stroke="#00ff00" stroke-width="1" stroke-dasharray="3 3" fill="none"/>
<path d="M527 571.5L1832 571.5" stroke="#00ff00" stroke-width="1" stroke-dasharray="3 3" fill="none"/>
<path d="M575 415.5L705.5 415.5" stroke="#00ff00" stroke-width="1" stroke-dasharray="3 3" fill="none"/>
<path d="M630 214.5L662.5 214.5" stroke="#00ff00" stroke-width="1" stroke-dasharray="3 3" fill="none"/>
<path d="M573.7 478.2L665.5 216" stroke="#00ff00" stroke-width="1" stroke-dasharray="2 3" fill="none"/>
<path d="M573.2 227.4L653.5 1" stroke="#ff8080" stroke-width="1" stroke-dasharray="2 3" fill="none"/>
<path d="M0 67.5L424 67.5" stroke="#ff8080" stroke-width="1" stroke-dasharray="3 3" fill="none"/>
<path d="M631.7 64.5L1832 64.5" stroke="#ff0000" stroke-width="1" stroke-dasharray="3 3" fill="none"/>
<path d="M500.5 141.5L622.7 141.5" stroke="#ff0000" stroke-width="1" stroke-dasharray="3 3" fill="none"/>
<path d="M500.5 141.5L500.5 175" stroke="#ff0000" stroke-width="1" fill="none"/>
<path d="M580.2 197.5L613.3 197.5" stroke="#ff0000" stroke-width="1" stroke-dasharray="3 3" fill="none"/>
<path d="M1247.2 188.5L1617.5 188.5" stroke="#ff0000" stroke-width="1" stroke-dasharray="3 3" fill="none"/>
<path d="M730.2 272.5L1285.3 272.5" stroke="#ff8080" stroke-width="1" stroke-dasharray="3 3" fill="none"/>
<path d="M778.7 530L1167 484.5" stroke="#ff8080" stroke-width="1" stroke-dasharray="3 3" fill="none"/>
<path d="M1564.2 383.5L1640.4 383.5" stroke="#ff8080" stroke-width="1" stroke-dasharray="4 4" fill="none"/>
<path d="M1699.5 290.2L1775.6 292.5" stroke="#ff8080" stroke-width="1" stroke-dasharray="4 4" fill="none"/>
<path d="M775 690.5L1167 644.5" stroke="#00ff00" stroke-width="1" stroke-dasharray="3 3" fill="none"/>
<path d="M894 542.6L1247 428.5" stroke="#00ffff" stroke-width="1" fill="none"/>
<path d="M894.3 681.3L1247 566" stroke="#00ffff" stroke-width="1" fill="none"/>
<path d="M917.2 626L1340.4 65" stroke="#00ff00" stroke-width="1" fill="none"/>
<path d="M963 839L1341.4 337" stroke="#00ff00" stroke-width="1" fill="none"/>
<path d="M1128 239.6L1690 0.5" stroke="#8000ff" stroke-width="1" fill="none"/>
<path d="M1128.6 606.3L1706.5 358.8" stroke="#8000ff" stroke-width="1" fill="none"/>
<path d="M1531.7 464.4L1621.9 253.1" stroke="#00ff00" stroke-width="1.7" fill="none"/>
<path d="M1531.7 626.4L1621.9 413.3" stroke="#00ff00" stroke-width="1.7" fill="none"/>
<path d="M1555.6 408L1642 0.5" stroke="#008000" stroke-width="1" fill="none"/>
<path d="M1556 653L1648 213.5" stroke="#008000" stroke-width="1" fill="none"/>
<path d="M1575.8 496.5L1709.5 497.5" stroke="#80ff00" stroke-width="1" stroke-dasharray="3 3" fill="none"/>
<path d="M1689.5 422.5L1823.7 423.5" stroke="#80ff00" stroke-width="1" stroke-dasharray="3 3" fill="none"/>
<path d="M0 530.5L1837 530.5" stroke="#0000ff" stroke-width="1" stroke-dasharray="3 3" fill="none"/>
<path d="M1758 1h8l-4 4.5z" fill="#22c022"/>
<path d="M5 860.5H1837M5 885.5H1837M5 911.5H1837" stroke="#000" fill="none"/>
<path d="M18.8 898.5L21.8 913.4L27.8 905.4L36.7 868.7L39.7 875.7L43.6 916.3L50.6 893.5L55.5 908.4L63.5 887.6L69.4 849.9L76.4 906.4L80.3 897.5L85.3 862.8L94.2 912.4L100.2 857.8L105.1 859.8L114.0 915.4L124.0 890.6L128.0 892.5L132.5 915.4L134.9 905.4L138.8 897.5L142.8 889.6L146.8 860.8L149.7 861.8L154.7 852.9L160.7 861.8L163.6 851.9L173.5 848.9L178.5 857.8L184.4 910.4L190.4 903.5L195.4 914.4L200.3 901.5L205.3 874.7L207.3 879.7L212.2 852.9L217.2 874.7L227.1 848.9L231.0 859.8L239.0 894.5L244.9 860.8L247.5 878.7L252.9 856.8L257.8 861.8L263.8 894.5L268.7 878.7L273.7 908.4L279.7 863.8L285.6 893.5L290.6 850.9L297.5 845.5L302.5 861.8L306.4 855.8L309.4 861.8L315.4 904.4L318.9 874.7L323.3 914.4L331.6 879.7L335.2 903.5L341.1 879.7L345.1 880.6L349.5 858.8L352.6 871.7L357.0 859.8L362.6 898.5L368.9 850.9L373.0 850.9L377.9 855.8L382.9 874.7L385.9 863.8L391.4 890.0L395.8 861.8L398.8 863.8L401.3 887.6L406.1 849.9L408.1 854.9L410.7 851.9L416.6 871.7L419.2 857.8L424.5 877.7L429.5 853.9L432.5 848.9L441.4 855.8L448.3 908.4L451.3 907.4L456.3 852.9L461.2 865.8L466.2 915.0L472.1 845.5L477.1 857.8L480.7 848.9L487.4 879.7L493.0 846.9L500.9 852.9L507.8 907.4L512.8 897.5L518.4 868.7L524.7 897.5L529.7 918.9L534.6 903.5L540.2 861.8L543.5 873.7L548.5 918.9L552.5 903.5L557.4 855.8L564.4 846.9L569.3 853.9L574.3 871.7L578.2 872.7L583.8 847.9L589.8 901.5L593.1 895.5L601.1 904.4L608.0 845.9L614.9 853.9L621.5 867.7L626.8 851.9L633.8 857.8L639.3 912.4L643.3 895.5L647.7 867.7L656.6 911.0L661.5 897.5L666.1 867.7L671.1 914.4L676.4 911.4L681.8 896.5L688.3 912.4L693.3 885.6L698.2 850.3L707.8 918.3L714.1 868.1L720.7 902.5L727.0 849.9L731.0 848.9L736.9 859.8L741.9 914.4L745.0 916.3L750.9 891.6L755.9 905.4L763.4 919.7L772.7 897.5L780.7 894.5L788.6 917.3L793.6 919.3L799.5 882.6L801.9 895.5L805.8 863.8L809.8 885.6L814.4 848.3L819.3 860.8L825.3 869.7L833.2 856.8L841.2 909.4L846.1 901.5L852.7 861.8L859.6 919.3L864.0 913.4L869.9 874.7L875.5 897.5L886.8 853.9L892.7 861.8L897.7 907.4L904.2 906.4L912.2 851.5L916.5 867.7L920.5 863.8L925.4 911.4L933.4 893.5L943.3 845.5L950.2 854.9L954.6 873.7L959.8 867.7L964.5 908.4L969.7 861.8L975.0 883.6L981.6 922.3L986.9 858.8L991.5 853.9L996.8 876.7L1001.4 857.8L1005.8 861.8L1010.1 851.9L1016.7 913.4L1024.6 883.6L1028.6 911.4L1043.4 863.8L1052.4 915.4L1060.3 855.8L1066.3 863.8L1071.2 899.5L1075.2 888.6L1082.1 913.4L1088.1 903.5L1095.6 876.7L1102.0 908.4L1109.3 890.6L1115.5 913.0L1121.9 864.8L1127.5 901.5L1132.2 878.7L1139.8 918.9L1148.7 858.8L1155.6 857.8L1159.6 851.9L1167.5 888.6L1172.5 871.7L1179.4 852.9L1189.3 898.5L1194.3 865.8L1200.8 896.5L1207.2 862.8L1215.5 918.9L1227.0 847.5L1235.0 848.9L1241.9 858.8L1247.8 850.9L1254.8 906.4L1261.7 873.7L1266.3 899.5L1270.7 878.7L1275.6 917.3L1282.6 881.6L1289.5 891.6L1294.5 907.4L1300.8 848.3L1306.4 857.8L1316.3 915.0L1323.2 896.5L1328.2 891.2L1333.1 906.4L1341.7 851.5L1349.0 895.5L1355.5 911.8L1366.8 874.7L1377.8 911.8L1390.6 852.9L1399.6 908.4L1407.5 857.8L1415.4 897.5L1419.8 904.4L1424.4 848.3L1430.3 874.7L1439.2 853.9L1444.2 856.8L1448.2 880.6L1450.7 870.7L1455.1 901.5L1461.0 900.5L1465.0 871.7L1470.0 911.4L1477.5 873.7L1482.9 899.5L1485.6 892.5L1490.9 907.4L1497.5 884.0L1504.8 915.0L1509.8 911.0L1512.7 913.4L1516.7 907.4L1522.6 864.8L1531.6 913.0L1545.4 852.9L1549.4 852.9L1553.4 863.8L1558.3 853.5L1566.3 871.7L1571.2 875.7L1574.2 899.5L1578.2 872.7L1586.1 911.0L1594.0 862.8L1597.0 857.8L1602.0 847.5L1608.9 852.9L1614.9 865.8L1618.4 899.1L1623.8 850.3L1630.7 882.6L1634.3 873.7L1643.0 910.4L1649.2 866.8L1655.1 916.3L1663.5 856.8L1670.0 914.4L1679.3 886.6L1684.3 913.0L1688.6 897.5L1695.8 916.3L1708.1 858.8L1716.4 917.3L1728.9 857.8L1732.9 877.7L1737.2 863.8L1742.2 914.4L1744.8 906.4L1747.7 908.4L1750.1 919.3L1755.7 909.4L1760.6 888.6L1762.0 890.6" stroke="#000" fill="none"/>
<path d="M18.8 898.5L19.9 898.9L21.0 900.8L22.0 904.3L23.1 908.5L24.2 911.0L25.3 911.6L26.4 910.2L27.5 908.7L28.5 907.3L29.6 905.0L30.7 901.9L31.8 897.8L32.9 893.3L34.0 888.9L35.0 884.4L36.1 880.0L37.2 875.5L38.3 872.3L39.4 871.3L40.5 872.4L41.5 877.3L42.6 884.8L43.7 894.9L44.8 904.9L45.9 910.6L46.9 911.9L48.0 908.9L49.1 905.4L50.2 901.8L51.3 898.3L52.4 896.4L53.4 896.6L54.5 898.9L55.6 902.2L56.7 904.9L57.8 905.9L58.9 905.1L59.9 902.5L61.0 899.6L62.1 896.8L63.2 894.0L64.3 891.2L65.3 887.3L66.4 882.1L67.5 875.7L68.6 868.8L69.7 861.9L70.8 857.0L71.8 856.7L72.9 861.0L74.0 869.7L75.1 878.5L76.2 887.2L77.3 895.8L78.3 901.1L79.4 903.2L80.5 901.9L81.6 898.9L82.7 894.4L83.8 888.4L84.8 881.0L85.9 873.5L87.0 868.7L88.1 868.6L89.2 872.3L90.2 878.4L91.3 884.4L92.4 890.4L93.5 896.5L94.6 902.5L95.7 906.1L96.7 905.1L97.8 899.0L98.9 889.1L100.0 879.3L101.1 869.6L102.2 862.9L103.2 859.3L104.3 858.6L105.4 859.0L106.5 860.3L107.6 863.5L108.6 868.5L109.7 875.3L110.8 882.1L111.9 888.8L113.0 895.6L114.1 902.3L115.1 908.4L116.2 911.6L117.3 912.1L118.4 909.8L119.5 907.2L120.6 904.5L121.6 901.8L122.7 899.1L123.8 896.4L124.9 893.8L126.0 892.1L127.0 891.4L128.1 891.5L129.2 892.5L130.3 895.0L131.4 898.9L132.5 904.3L133.5 909.2L134.6 911.2L135.7 910.3L136.8 907.2L137.9 904.0L139.0 901.5L140.0 899.3L141.1 897.2L142.2 895.0L143.3 892.9L144.4 889.7L145.5 884.9L146.5 878.2L147.6 870.4L148.7 865.1L149.8 862.1L150.9 861.3L151.9 860.8L153.0 859.6L154.1 857.8L155.2 855.8L156.3 854.6L157.4 854.3L158.4 855.3L159.5 856.9L160.6 858.5L161.7 859.8L162.8 859.7L163.9 857.9L164.9 855.1L166.0 852.8L167.1 851.5L168.2 851.2L169.3 850.8L170.4 850.5L171.4 850.2L172.5 849.8L173.6 849.5L174.7 849.4L175.8 849.9L176.8 851.1L177.9 853.0L179.0 854.9L180.1 858.2L181.2 864.0L182.3 872.1L183.3 881.8L184.4 891.4L185.5 900.3L186.6 906.0L187.7 908.5L188.8 907.9L189.8 906.6L190.9 905.4L192.0 904.8L193.1 905.3L194.2 907.0L195.2 909.4L196.3 911.6L197.4 912.3L198.5 911.4L199.6 909.1L200.7 906.2L201.7 902.9L202.8 898.8L203.9 893.7L205.0 887.9L206.1 882.1L207.2 878.7L208.2 877.5L209.3 876.3L210.4 873.7L211.5 868.6L212.6 862.6L213.7 858.3L214.7 857.1L215.8 859.3L216.9 864.0L218.0 868.7L219.1 871.3L220.1 871.7L221.2 869.8L222.3 867.0L223.4 864.2L224.5 861.3L225.6 858.5L226.6 855.7L227.7 852.9L228.8 851.3L229.9 851.6L231.0 853.7L232.1 856.8L233.1 860.4L234.2 864.5L235.3 869.1L236.4 873.8L237.5 878.5L238.5 883.2L239.6 887.9L240.7 890.3L241.8 889.0L242.9 884.6L244.0 878.4L245.0 872.3L246.1 867.4L247.2 866.6L248.3 869.7L249.4 873.4L250.5 873.9L251.5 871.0L252.6 866.7L253.7 862.3L254.8 859.5L255.9 858.3L257.0 858.7L258.0 859.8L259.1 861.5L260.2 864.6L261.3 869.1L262.4 874.9L263.4 880.8L264.5 886.7L265.6 890.2L266.7 890.8L267.8 888.6L268.9 885.1L269.9 882.6L271.0 883.1L272.1 886.4L273.2 892.6L274.3 899.0L275.4 902.6L276.4 901.5L277.5 896.0L278.6 888.0L279.7 879.9L280.8 872.7L281.8 869.4L282.9 870.1L284.0 874.7L285.1 880.1L286.2 885.6L287.3 888.1L288.3 885.9L289.4 879.2L290.5 870.0L291.6 861.2L292.7 854.7L293.8 850.8L294.8 849.3L295.9 848.4L297.0 847.6L298.1 846.7L299.2 846.8L300.3 848.2L301.3 851.0L302.4 854.5L303.5 857.8L304.6 859.6L305.7 859.8L306.7 858.6L307.8 857.5L308.9 857.5L310.0 858.7L311.1 862.0L312.2 867.1L313.2 873.8L314.3 881.5L315.4 889.2L316.5 895.7L317.6 897.4L318.7 894.1L319.7 886.0L320.8 882.5L321.9 884.6L323.0 892.1L324.1 901.9L325.1 907.7L326.2 909.3L327.3 906.6L328.4 902.1L329.5 897.6L330.6 893.0L331.6 888.5L332.7 884.9L333.8 884.6L334.9 887.8L336.0 894.4L337.1 898.3L338.1 898.8L339.2 896.0L340.3 891.6L341.4 887.2L342.5 883.5L343.5 881.0L344.6 880.0L345.7 880.3L346.8 879.3L347.9 876.5L349.0 872.1L350.0 866.8L351.1 863.3L352.2 862.9L353.3 865.6L354.4 868.3L355.5 868.7L356.5 866.9L357.6 863.9L358.7 863.2L359.8 865.9L360.9 871.7L362.0 879.2L363.0 886.6L364.1 891.5L365.2 891.8L366.3 886.9L367.4 878.7L368.4 870.6L369.5 862.4L370.6 856.0L371.7 852.2L372.8 850.9L373.9 850.9L374.9 851.2L376.0 851.9L377.1 852.9L378.2 853.9L379.3 855.4L380.4 857.8L381.4 861.0L382.5 865.1L383.6 869.2L384.7 871.3L385.8 870.9L386.8 868.5L387.9 867.5L389.0 869.2L390.1 873.6L391.2 878.7L392.3 883.7L393.3 885.1L394.4 883.1L395.5 877.4L396.6 870.5L397.7 865.8L398.8 863.3L399.8 863.6L400.9 867.6L402.0 874.5L403.1 879.5L404.2 879.2L405.3 873.4L406.3 864.9L407.4 857.8L408.5 853.9L409.6 852.7L410.7 853.5L411.7 853.5L412.8 853.9L413.9 855.8L415.0 859.1L416.1 862.7L417.2 866.4L418.2 868.2L419.3 866.9L420.4 863.8L421.5 861.8L422.6 862.7L423.7 866.5L424.7 870.5L425.8 873.5L426.9 873.7L428.0 871.3L429.1 866.2L430.1 861.0L431.2 856.6L432.3 853.3L433.4 851.0L434.5 850.1L435.6 849.9L436.6 850.4L437.7 851.3L438.8 852.1L439.9 853.0L441.0 853.8L442.1 854.6L443.1 857.2L444.2 862.1L445.3 869.2L446.4 877.4L447.5 885.7L448.6 893.9L449.6 901.1L450.7 905.8L451.8 907.9L452.9 905.5L454.0 899.6L455.0 890.0L456.1 878.2L457.2 866.8L458.3 859.6L459.4 856.8L460.5 858.2L461.5 861.0L462.6 865.0L463.7 871.3L464.8 880.0L465.9 890.6L467.0 901.3L468.0 905.6L469.1 902.8L470.2 893.2L471.3 880.4L472.4 867.7L473.4 856.9L474.5 850.6L475.6 848.9L476.7 851.5L477.8 854.2L478.9 855.6L479.9 855.3L481.0 853.4L482.1 851.8L483.2 852.4L484.3 855.5L485.4 860.4L486.4 865.4L487.5 870.4L488.6 874.3L489.7 874.9L490.8 872.2L491.9 866.2L492.9 859.9L494.0 853.9L495.1 850.0L496.2 848.2L497.3 848.5L498.3 849.3L499.4 850.2L500.5 851.0L501.6 851.8L502.7 854.5L503.8 859.7L504.8 867.1L505.9 875.6L507.0 884.2L508.1 892.7L509.2 899.8L510.3 903.9L511.3 904.7L512.4 902.5L513.5 900.4L514.6 897.4L515.7 893.3L516.7 888.2L517.8 882.7L518.9 877.1L520.0 873.5L521.1 873.1L522.2 876.1L523.2 881.0L524.3 886.0L525.4 890.9L526.5 895.8L527.6 900.6L528.7 905.2L529.7 909.9L530.8 913.9L531.9 915.6L533.0 914.9L534.1 911.9L535.2 908.5L536.2 904.2L537.3 898.4L538.4 891.2L539.5 883.2L540.6 875.1L541.6 868.8L542.7 866.0L543.8 867.1L544.9 871.8L546.0 878.2L547.1 886.4L548.1 896.2L549.2 906.0L550.3 912.2L551.4 914.1L552.5 911.9L553.6 907.3L554.6 900.9L555.7 892.7L556.8 882.5L557.9 872.0L559.0 863.1L560.0 857.0L561.1 853.8L562.2 852.4L563.3 851.0L564.4 849.7L565.5 848.5L566.5 848.1L567.6 848.6L568.7 850.0L569.8 851.5L570.9 853.5L572.0 856.2L573.0 859.6L574.1 863.4L575.2 867.2L576.3 869.9L577.4 871.6L578.5 872.2L579.5 871.9L580.6 870.0L581.7 866.7L582.8 861.9L583.9 857.1L584.9 853.5L586.0 854.1L587.1 858.9L588.2 868.0L589.3 877.6L590.4 887.3L591.4 894.7L592.5 898.4L593.6 898.5L594.7 897.1L595.8 896.7L596.9 897.3L597.9 898.5L599.0 899.7L600.1 900.9L601.2 902.1L602.3 902.4L603.3 899.7L604.4 894.0L605.5 885.2L606.6 876.0L607.7 866.8L608.8 857.7L609.8 851.4L610.9 848.2L612.0 848.1L613.1 849.3L614.2 850.6L615.3 851.8L616.3 853.2L617.4 854.9L618.5 856.9L619.6 859.2L620.7 861.5L621.8 863.7L622.8 865.3L623.9 865.3L625.0 863.7L626.1 860.4L627.2 857.2L628.2 854.6L629.3 853.2L630.4 853.1L631.5 854.0L632.6 855.0L633.7 855.9L634.7 857.1L635.8 861.2L636.9 868.2L638.0 878.1L639.1 888.8L640.2 899.3L641.2 905.4L642.3 907.0L643.4 904.2L644.5 899.4L645.6 893.9L646.6 887.8L647.7 881.1L648.8 875.1L649.9 872.7L651.0 873.8L652.1 878.5L653.1 883.7L654.2 889.0L655.3 894.3L656.4 899.5L657.5 904.7L658.6 907.4L659.6 907.7L660.7 905.6L661.8 902.6L662.9 899.1L664.0 894.3L665.1 888.4L666.1 881.4L667.2 875.6L668.3 874.9L669.4 879.1L670.5 888.4L671.5 898.5L672.6 906.8L673.7 911.9L674.8 913.5L675.9 912.9L677.0 912.3L678.0 911.2L679.1 909.4L680.2 906.8L681.3 903.8L682.4 900.9L683.5 899.0L684.5 898.9L685.6 900.6L686.7 903.2L687.8 905.9L688.9 908.5L689.9 909.5L691.0 907.8L692.1 903.5L693.2 897.7L694.3 891.8L695.4 885.3L696.4 878.3L697.5 870.6L698.6 862.8L699.7 857.5L700.8 856.7L701.9 861.0L702.9 868.6L704.0 876.3L705.1 884.0L706.2 891.6L707.3 899.3L708.4 907.0L709.4 911.5L710.5 910.8L711.6 905.2L712.7 896.5L713.8 887.9L714.8 879.3L715.9 874.5L717.0 874.0L718.1 877.7L719.2 883.4L720.3 889.0L721.3 894.6L722.4 897.1L723.5 894.7L724.6 888.0L725.7 878.9L726.8 869.9L727.8 860.9L728.9 854.5L730.0 850.7L731.1 849.4L732.2 849.3L733.2 849.9L734.3 851.2L735.4 853.1L736.5 855.1L737.6 857.1L738.7 861.4L739.7 868.9L740.8 879.2L741.9 891.0L743.0 902.1L744.1 909.9L745.2 914.5L746.2 915.2L747.3 913.8L748.4 910.9L749.5 906.5L750.6 902.0L751.7 897.5L752.7 895.0L753.8 894.7L754.9 896.7L756.0 899.7L757.1 902.6L758.1 905.2L759.2 907.6L760.3 909.7L761.4 911.8L762.5 913.8L763.6 915.9L764.6 917.5L765.7 917.7L766.8 916.6L767.9 914.1L769.0 911.5L770.1 908.9L771.1 906.4L772.2 903.8L773.3 901.2L774.4 899.1L775.5 897.6L776.5 896.9L777.6 896.5L778.7 896.1L779.8 895.6L780.9 895.2L782.0 895.2L783.0 896.2L784.1 898.2L785.2 901.3L786.3 904.4L787.4 907.6L788.5 910.7L789.5 913.7L790.6 916.0L791.7 917.4L792.8 918.1L793.9 918.5L795.0 918.1L796.0 915.5L797.1 910.8L798.2 904.1L799.3 897.3L800.4 890.8L801.4 887.9L802.5 888.7L803.6 890.0L804.7 887.9L805.8 881.5L806.9 873.5L807.9 869.9L809.0 870.6L810.1 875.6L811.2 879.5L812.3 879.1L813.4 874.2L814.4 865.4L815.5 857.5L816.6 853.0L817.7 851.8L818.8 854.0L819.8 856.7L820.9 859.3L822.0 861.4L823.1 863.2L824.2 864.8L825.3 866.5L826.3 867.9L827.4 868.3L828.5 867.7L829.6 866.2L830.7 864.4L831.8 862.7L832.8 860.9L833.9 859.1L835.0 859.6L836.1 862.9L837.2 868.8L838.3 875.9L839.3 883.0L840.4 890.1L841.5 897.2L842.6 903.2L843.7 906.5L844.7 907.1L845.8 905.4L846.9 903.6L848.0 900.5L849.1 895.9L850.2 890.0L851.2 883.5L852.3 877.0L853.4 870.5L854.5 867.8L855.6 870.1L856.7 876.8L857.7 885.9L858.8 894.9L859.9 903.9L861.0 911.5L862.1 916.1L863.1 917.4L864.2 916.0L865.3 913.8L866.4 910.1L867.5 904.7L868.6 897.6L869.6 890.5L870.7 883.4L871.8 879.8L872.9 879.5L874.0 882.5L875.1 886.9L876.1 891.4L877.2 893.9L878.3 893.6L879.4 890.8L880.5 886.6L881.6 882.4L882.6 878.3L883.7 874.1L884.8 869.9L885.9 865.7L887.0 861.6L888.0 858.0L889.1 856.0L890.2 855.7L891.3 857.0L892.4 858.5L893.5 859.9L894.5 863.7L895.6 870.0L896.7 878.7L897.8 888.6L898.9 897.6L900.0 903.7L901.0 906.8L902.1 907.1L903.2 906.9L904.3 906.7L905.4 905.9L906.4 903.0L907.5 898.0L908.6 890.9L909.7 883.4L910.8 876.0L911.9 868.6L912.9 861.1L914.0 856.8L915.1 855.9L916.2 858.4L917.3 862.5L918.4 865.2L919.4 866.3L920.5 865.9L921.6 865.6L922.7 868.8L923.8 875.3L924.9 885.2L925.9 895.7L927.0 903.8L928.1 907.8L929.2 907.7L930.3 905.3L931.3 902.9L932.4 900.5L933.5 898.1L934.6 895.4L935.7 891.9L936.8 887.5L937.8 882.4L938.9 877.1L940.0 871.9L941.1 866.6L942.2 861.4L943.3 856.1L944.3 851.3L945.4 848.3L946.5 847.4L947.6 848.4L948.7 849.9L949.7 851.4L950.8 852.8L951.9 855.0L953.0 858.2L954.1 862.3L955.2 866.9L956.2 870.4L957.3 872.0L958.4 871.8L959.5 870.5L960.6 869.3L961.7 871.0L962.7 875.9L963.8 883.9L964.9 893.3L966.0 899.6L967.1 900.4L968.2 894.9L969.2 885.2L970.3 875.5L971.4 868.8L972.5 866.7L973.6 868.9L974.6 873.3L975.7 877.8L976.8 882.7L977.9 888.2L979.0 894.3L980.1 900.7L981.1 907.0L982.2 913.4L983.3 915.6L984.4 911.5L985.5 901.7L986.6 888.7L987.6 875.7L988.7 865.9L989.8 859.6L990.9 856.8L992.0 855.7L993.0 855.5L994.1 857.1L995.2 860.6L996.3 865.3L997.4 869.9L998.5 872.8L999.5 872.7L1000.6 869.8L1001.7 865.4L1002.8 861.7L1003.9 859.5L1005.0 859.1L1006.0 860.1L1007.1 860.6L1008.2 860.2L1009.3 858.7L1010.4 856.2L1011.5 855.3L1012.5 858.1L1013.6 864.6L1014.7 874.7L1015.8 884.8L1016.9 894.9L1017.9 903.5L1019.0 908.0L1020.1 908.4L1021.2 904.6L1022.3 900.5L1023.4 896.4L1024.4 892.3L1025.5 888.6L1026.6 888.2L1027.7 891.2L1028.8 897.7L1029.9 904.0L1030.9 907.2L1032.0 907.1L1033.1 903.8L1034.2 900.4L1035.3 896.9L1036.3 893.4L1037.4 889.9L1038.5 886.4L1039.6 882.9L1040.7 879.5L1041.8 876.0L1042.8 872.5L1043.9 869.0L1045.0 867.3L1046.1 868.7L1047.2 873.1L1048.3 879.3L1049.3 885.5L1050.4 891.7L1051.5 897.9L1052.6 904.1L1053.7 908.8L1054.8 909.2L1055.8 905.5L1056.9 897.5L1058.0 889.4L1059.1 881.2L1060.2 873.0L1061.2 865.2L1062.3 860.2L1063.4 857.9L1064.5 858.5L1065.6 860.0L1066.7 861.4L1067.7 863.8L1068.8 868.1L1069.9 874.4L1071.0 882.3L1072.1 890.0L1073.2 894.6L1074.2 895.9L1075.3 894.1L1076.4 891.8L1077.5 891.5L1078.6 893.2L1079.6 896.9L1080.7 900.8L1081.8 904.6L1082.9 908.5L1084.0 910.8L1085.1 911.4L1086.1 910.3L1087.2 908.5L1088.3 906.7L1089.4 904.7L1090.5 902.0L1091.6 898.8L1092.6 895.0L1093.7 891.1L1094.8 887.2L1095.9 883.4L1097.0 880.7L1098.1 880.7L1099.1 883.6L1100.2 888.9L1101.3 894.3L1102.4 899.6L1103.5 903.8L1104.5 905.6L1105.6 904.8L1106.7 902.2L1107.8 899.5L1108.9 896.9L1110.0 894.2L1111.0 893.1L1112.1 894.1L1113.2 896.9L1114.3 900.9L1115.4 904.8L1116.5 908.3L1117.5 908.2L1118.6 904.6L1119.7 897.5L1120.8 889.4L1121.9 881.2L1122.9 874.0L1124.0 871.1L1125.1 872.8L1126.2 878.9L1127.3 886.0L1128.4 892.9L1129.4 896.2L1130.5 895.9L1131.6 892.0L1132.7 886.7L1133.8 883.5L1134.9 883.5L1135.9 887.1L1137.0 892.8L1138.1 898.6L1139.2 904.3L1140.3 910.0L1141.4 913.5L1142.4 913.0L1143.5 908.3L1144.6 901.0L1145.7 893.7L1146.8 886.4L1147.8 879.1L1148.9 871.8L1150.0 865.3L1151.1 860.9L1152.2 858.6L1153.3 858.5L1154.3 858.3L1155.4 858.1L1156.5 857.9L1157.6 857.3L1158.7 856.3L1159.8 854.8L1160.8 853.9L1161.9 854.9L1163.0 857.9L1164.1 862.7L1165.2 867.8L1166.2 872.8L1167.3 877.8L1168.4 882.6L1169.5 884.9L1170.6 884.6L1171.7 881.8L1172.7 878.1L1173.8 874.6L1174.9 871.2L1176.0 868.0L1177.1 865.1L1178.2 862.1L1179.2 859.2L1180.3 856.5L1181.4 856.1L1182.5 858.0L1183.6 862.2L1184.7 867.2L1185.7 872.2L1186.8 877.2L1187.9 882.1L1189.0 887.1L1190.1 892.1L1191.1 893.8L1192.2 891.8L1193.3 886.3L1194.4 879.2L1195.5 873.2L1196.6 870.8L1197.6 871.9L1198.7 876.5L1199.8 881.7L1200.9 886.8L1202.0 891.0L1203.1 892.0L1204.1 889.8L1205.2 884.5L1206.3 878.8L1207.4 873.1L1208.5 868.9L1209.5 868.4L1210.6 871.7L1211.7 878.8L1212.8 886.1L1213.9 893.4L1215.0 900.7L1216.0 908.1L1217.1 912.7L1218.2 912.9L1219.3 908.7L1220.4 902.0L1221.5 895.3L1222.5 888.5L1223.6 881.8L1224.7 875.1L1225.8 868.4L1226.9 861.7L1228.0 855.2L1229.0 850.7L1230.1 848.3L1231.2 847.9L1232.3 848.0L1233.4 848.2L1234.4 848.4L1235.5 848.6L1236.6 849.1L1237.7 849.9L1238.8 851.2L1239.9 852.8L1240.9 854.3L1242.0 855.9L1243.1 857.2L1244.2 857.6L1245.3 857.1L1246.4 855.7L1247.4 854.3L1248.5 852.8L1249.6 853.9L1250.7 858.2L1251.8 865.3L1252.8 873.9L1253.9 882.5L1255.0 891.1L1256.1 898.1L1257.2 901.1L1258.3 900.1L1259.3 895.0L1260.4 889.9L1261.5 884.8L1262.6 879.9L1263.7 878.3L1264.8 879.9L1265.8 884.9L1266.9 890.9L1268.0 894.7L1269.1 894.6L1270.2 891.4L1271.3 886.3L1272.3 883.8L1273.4 885.6L1274.5 891.7L1275.6 900.2L1276.7 907.9L1277.7 911.5L1278.8 910.9L1279.9 906.3L1281.0 900.8L1282.1 895.2L1283.2 889.7L1284.2 885.6L1285.3 883.7L1286.4 884.0L1287.5 885.6L1288.6 887.1L1289.7 888.7L1290.7 890.5L1291.8 892.8L1292.9 895.6L1294.0 899.0L1295.1 902.4L1296.1 903.2L1297.2 899.5L1298.3 891.8L1299.4 881.6L1300.5 871.5L1301.6 861.3L1302.6 854.5L1303.7 851.2L1304.8 851.5L1305.9 853.3L1307.0 855.1L1308.1 857.8L1309.1 862.0L1310.2 867.5L1311.3 873.7L1312.4 880.0L1313.5 886.2L1314.6 892.5L1315.6 898.7L1316.7 905.0L1317.8 909.8L1318.9 911.9L1320.0 910.9L1321.0 908.0L1322.1 905.1L1323.2 902.2L1324.3 899.4L1325.4 897.2L1326.5 895.4L1327.5 894.2L1328.6 893.0L1329.7 892.6L1330.8 893.5L1331.9 895.9L1333.0 899.3L1334.0 902.3L1335.1 902.3L1336.2 899.4L1337.3 893.4L1338.4 886.5L1339.4 879.6L1340.5 872.7L1341.6 865.8L1342.7 859.5L1343.8 857.1L1344.9 858.6L1345.9 864.1L1347.0 870.7L1348.1 877.2L1349.2 883.7L1350.3 889.8L1351.4 894.8L1352.4 898.7L1353.5 901.4L1354.6 904.2L1355.7 906.9L1356.8 908.9L1357.9 909.1L1358.9 907.5L1360.0 904.0L1361.1 900.5L1362.2 896.9L1363.3 893.4L1364.3 889.8L1365.4 886.3L1366.5 882.7L1367.6 879.1L1368.7 877.7L1369.8 878.3L1370.8 881.1L1371.9 884.7L1373.0 888.4L1374.1 892.0L1375.2 895.7L1376.3 899.3L1377.3 903.0L1378.4 906.6L1379.5 908.5L1380.6 907.5L1381.7 903.9L1382.7 898.9L1383.8 893.9L1384.9 889.0L1386.0 884.0L1387.1 879.0L1388.2 874.0L1389.2 869.0L1390.3 864.0L1391.4 859.1L1392.5 857.5L1393.6 859.4L1394.7 864.7L1395.7 871.3L1396.8 878.0L1397.9 884.7L1399.0 891.4L1400.1 898.0L1401.2 902.4L1402.2 902.6L1403.3 898.4L1404.4 891.4L1405.5 884.5L1406.6 877.6L1407.6 870.6L1408.7 864.9L1409.8 862.8L1410.9 864.4L1412.0 869.5L1413.1 874.9L1414.1 880.4L1415.2 885.8L1416.3 891.2L1417.4 895.4L1418.5 898.6L1419.6 900.6L1420.6 902.2L1421.7 899.4L1422.8 892.3L1423.9 880.8L1425.0 867.6L1426.0 857.9L1427.1 854.1L1428.2 855.8L1429.3 860.6L1430.4 865.4L1431.5 869.7L1432.5 871.7L1433.6 871.7L1434.7 869.4L1435.8 866.9L1436.9 864.4L1438.0 861.8L1439.0 859.3L1440.1 856.9L1441.2 855.3L1442.3 854.7L1443.4 855.1L1444.5 855.7L1445.5 857.0L1446.6 860.1L1447.7 864.8L1448.8 871.3L1449.9 875.6L1450.9 876.4L1452.0 875.4L1453.1 876.0L1454.2 880.1L1455.3 887.7L1456.4 894.4L1457.4 898.9L1458.5 901.1L1459.6 901.1L1460.7 900.9L1461.8 900.7L1462.9 898.4L1463.9 893.8L1465.0 887.0L1466.1 880.4L1467.2 878.5L1468.3 881.5L1469.3 889.2L1470.4 897.8L1471.5 904.0L1472.6 906.2L1473.7 903.7L1474.8 898.3L1475.8 892.8L1476.9 887.4L1478.0 881.9L1479.1 878.4L1480.2 878.2L1481.3 881.4L1482.3 886.6L1483.4 891.7L1484.5 895.4L1485.6 896.6L1486.7 895.7L1487.8 894.9L1488.8 895.9L1489.9 898.6L1491.0 901.6L1492.1 904.1L1493.2 904.5L1494.2 902.9L1495.3 899.3L1496.4 895.5L1497.5 891.6L1498.6 888.3L1499.7 887.5L1500.7 889.1L1501.8 893.2L1502.9 897.8L1504.0 902.4L1505.1 907.0L1506.2 910.9L1507.2 913.2L1508.3 913.9L1509.4 913.0L1510.5 912.2L1511.6 911.7L1512.6 911.8L1513.7 912.3L1514.8 912.4L1515.9 911.7L1517.0 910.2L1518.1 907.8L1519.1 903.5L1520.2 897.5L1521.3 889.6L1522.4 881.8L1523.5 874.2L1524.6 870.6L1525.6 871.0L1526.7 875.4L1527.8 881.2L1528.9 887.0L1530.0 892.8L1531.1 898.6L1532.1 904.4L1533.2 908.2L1534.3 908.7L1535.4 905.9L1536.5 901.2L1537.5 896.5L1538.6 891.7L1539.7 887.0L1540.8 882.3L1541.9 877.6L1543.0 872.9L1544.0 868.2L1545.1 863.5L1546.2 858.8L1547.3 855.4L1548.4 853.5L1549.5 852.9L1550.5 853.1L1551.6 854.2L1552.7 856.2L1553.8 859.0L1554.9 861.1L1555.9 861.8L1557.0 860.7L1558.1 858.4L1559.2 856.2L1560.3 855.5L1561.4 856.1L1562.4 858.0L1563.5 860.5L1564.6 863.0L1565.7 865.4L1566.8 867.9L1567.9 870.1L1568.9 871.8L1570.0 873.0L1571.1 873.9L1572.2 875.1L1573.3 878.6L1574.4 884.3L1575.4 890.6L1576.5 893.0L1577.6 890.8L1578.7 883.9L1579.8 878.8L1580.8 877.6L1581.9 880.4L1583.0 885.6L1584.1 890.9L1585.2 896.1L1586.3 901.4L1587.3 905.4L1588.4 906.0L1589.5 903.1L1590.6 896.7L1591.7 890.1L1592.8 883.5L1593.8 876.9L1594.9 870.4L1596.0 865.4L1597.1 861.7L1598.2 859.4L1599.2 857.4L1600.3 855.3L1601.4 853.1L1602.5 850.9L1603.6 849.2L1604.7 848.5L1605.7 848.7L1606.8 849.6L1607.9 850.4L1609.0 851.3L1610.1 852.3L1611.2 853.7L1612.2 855.5L1613.3 857.8L1614.4 860.1L1615.5 862.4L1616.6 866.4L1617.7 872.9L1618.7 881.8L1619.8 889.3L1620.9 890.8L1622.0 886.2L1623.1 876.4L1624.1 866.6L1625.2 859.0L1626.3 855.7L1627.4 857.1L1628.5 862.1L1629.6 867.2L1630.6 872.3L1631.7 876.9L1632.8 879.3L1633.9 879.5L1635.0 877.4L1636.1 876.4L1637.1 877.7L1638.2 881.2L1639.3 885.7L1640.4 890.3L1641.5 894.9L1642.5 899.4L1643.6 904.0L1644.7 905.9L1645.8 903.9L1646.9 898.2L1648.0 890.6L1649.0 883.0L1650.1 875.9L1651.2 873.6L1652.3 876.3L1653.4 883.8L1654.5 892.9L1655.5 902.0L1656.6 908.2L1657.7 909.6L1658.8 905.4L1659.9 897.7L1661.0 890.1L1662.0 882.4L1663.1 874.7L1664.2 867.1L1665.3 863.6L1666.4 865.7L1667.4 872.7L1668.5 882.3L1669.6 891.9L1670.7 901.5L1671.8 908.0L1672.9 910.4L1673.9 909.0L1675.0 905.8L1676.1 902.6L1677.2 899.3L1678.3 896.1L1679.4 892.9L1680.4 890.3L1681.5 890.4L1682.6 893.1L1683.7 898.4L1684.8 904.1L1685.8 908.2L1686.9 909.3L1688.0 907.4L1689.1 903.5L1690.2 900.8L1691.3 900.1L1692.3 901.7L1693.4 904.5L1694.5 907.3L1695.6 910.1L1696.7 912.8L1697.8 913.2L1698.8 911.3L1699.9 907.1L1701.0 902.0L1702.1 897.0L1703.2 891.9L1704.3 886.8L1705.3 881.8L1706.4 876.7L1707.5 871.7L1708.6 866.6L1709.7 863.8L1710.7 864.8L1711.8 869.9L1712.9 877.6L1714.0 885.2L1715.1 892.8L1716.2 900.5L1717.2 908.0L1718.3 911.7L1719.4 911.8L1720.5 908.1L1721.6 902.9L1722.7 897.8L1723.7 892.6L1724.8 887.5L1725.9 882.3L1727.0 877.1L1728.1 872.0L1729.1 866.8L1730.2 863.0L1731.3 862.2L1732.4 864.5L1733.5 869.9L1734.6 873.5L1735.6 874.2L1736.7 872.3L1737.8 868.8L1738.9 868.3L1740.0 872.5L1741.1 881.1L1742.1 892.0L1743.2 902.3L1744.3 908.3L1745.4 910.2L1746.5 908.7L1747.6 907.5L1748.6 907.7L1749.7 909.8L1750.8 913.1L1751.9 916.0L1753.0 917.0L1754.0 916.1L1755.1 914.2L1756.2 912.3L1757.3 909.9L1758.4 906.7L1759.5 902.6L1760.5 898.0L1761.6 893.7" stroke="#ff0000" fill="none"/>
<path d="M0 839.5H1916" stroke="#c0c0c0" stroke-width="1"/>
<path d="M0 932.5H1916" stroke="#c0c0c0"/>
<path d="M1837.5 1V948" stroke="#a8a8a8"/>
<path d="M1837 809.5h4M1837 768.5h4M1837 728.5h4M1837 687.5h4M1837 647.5h4M1837 606.5h4M1837 566.5h4M1837 525.5h4M1837 485.5h4M1837 444.5h4M1837 404.5h4M1837 363.5h4M1837 323.5h4M1837 282.5h4M1837 242.5h4M1837 201.5h4M1837 161.5h4M1837 121.5h4M1837 80.5h4M1837 40.5h4M1837 864.5h4M1837 885.5h4M1837 906.5h4M1837 928.5h4" stroke="#a8a8a8"/>
<path d="M122.5 932V948M165.5 932V948M207.5 932V948M251.5 932V948M296.5 932V948M340.5 932V948M383.5 932V948M428.5 932V948M471.5 932V948M515.5 932V948M559.5 932V948M604.5 932V948M647.5 932V948M692.5 932V948M735.5 932V948M779.5 932V948M822.5 932V948M868.5 932V948M911.5 932V948M956.5 932V948M999.5 932V948M1043.5 932V948M1086.5 932V948M1131.5 932V948M1175.5 932V948M1220.5 932V948M1262.5 932V948M1308.5 932V948M1351.5 932V948M1395.5 932V948M1439.5 932V948M1485.5 932V948M1526.5 932V948M1571.5 932V948M1616.5 932V948M1659.5 932V948M1703.5 932V948M1748.5 932V948M1791.5 932V948M1822.5 932V948" stroke="#c0c0c0"/>
<path d="M0 0.5H1916M0.5 0V948M1915.5 0V948M0 947.5H1916" stroke="#000"/>
<text x="1843" y="813.8" font-size="12.3" fill="#000" text-anchor="start" font-weight="normal" font-family="Liberation Sans, sans-serif">250.00</text>
<text x="1843" y="772.8" font-size="12.3" fill="#000" text-anchor="start" font-weight="normal" font-family="Liberation Sans, sans-serif">500.00</text>
<text x="1843" y="732.8" font-size="12.3" fill="#000" text-anchor="start" font-weight="normal" font-family="Liberation Sans, sans-serif">750.00</text>
<text x="1843" y="691.8" font-size="12.3" fill="#000" text-anchor="start" font-weight="normal" font-family="Liberation Sans, sans-serif">1000.00</text>
<text x="1843" y="651.8" font-size="12.3" fill="#000" text-anchor="start" font-weight="normal" font-family="Liberation Sans, sans-serif">1250.00</text>
<text x="1843" y="610.8" font-size="12.3" fill="#000" text-anchor="start" font-weight="normal" font-family="Liberation Sans, sans-serif">1500.00</text>
<text x="1843" y="570.8" font-size="12.3" fill="#000" text-anchor="start" font-weight="normal" font-family="Liberation Sans, sans-serif">1750.00</text>
<text x="1843" y="529.8" font-size="12.3" fill="#000" text-anchor="start" font-weight="normal" font-family="Liberation Sans, sans-serif">2000.00</text>
<text x="1843" y="489.8" font-size="12.3" fill="#000" text-anchor="start" font-weight="normal" font-family="Liberation Sans, sans-serif">2250.00</text>
<text x="1843" y="448.8" font-size="12.3" fill="#000" text-anchor="start" font-weight="normal" font-family="Liberation Sans, sans-serif">2500.00</text>
<text x="1843" y="408.8" font-size="12.3" fill="#000" text-anchor="start" font-weight="normal" font-family="Liberation Sans, sans-serif">2750.00</text>
<text x="1843" y="367.8" font-size="12.3" fill="#000" text-anchor="start" font-weight="normal" font-family="Liberation Sans, sans-serif">3000.00</text>
<text x="1843" y="327.8" font-size="12.3" fill="#000" text-anchor="start" font-weight="normal" font-family="Liberation Sans, sans-serif">3250.00</text>
<text x="1843" y="286.8" font-size="12.3" fill="#000" text-anchor="start" font-weight="normal" font-family="Liberation Sans, sans-serif">3500.00</text>
<text x="1843" y="246.8" font-size="12.3" fill="#000" text-anchor="start" font-weight="normal" font-family="Liberation Sans, sans-serif">3750.00</text>
<text x="1843" y="205.8" font-size="12.3" fill="#000" text-anchor="start" font-weight="normal" font-family="Liberation Sans, sans-serif">4000.00</text>
<text x="1843" y="165.8" font-size="12.3" fill="#000" text-anchor="start" font-weight="normal" font-family="Liberation Sans, sans-serif">4250.00</text>
<text x="1843" y="125.8" font-size="12.3" fill="#000" text-anchor="start" font-weight="normal" font-family="Liberation Sans, sans-serif">4500.00</text>
<text x="1843" y="84.8" font-size="12.3" fill="#000" text-anchor="start" font-weight="normal" font-family="Liberation Sans, sans-serif">4750.00</text>
<text x="1843" y="44.8" font-size="12.3" fill="#000" text-anchor="start" font-weight="normal" font-family="Liberation Sans, sans-serif">5000.00</text>
<text x="1843" y="868.8" font-size="12.3" fill="#000" text-anchor="start" font-weight="normal" font-family="Liberation Sans, sans-serif">75.00</text>
<text x="1843" y="911.2" font-size="12.3" fill="#000" text-anchor="start" font-weight="normal" font-family="Liberation Sans, sans-serif">25.000</text>
<rect x="1838" y="523" width="77" height="14" fill="#0000ff"/>
<path d="M1837 530.5h4" stroke="#fff"/>
<text x="1843.5" y="535" font-size="12.3" fill="#fff" text-anchor="start" font-weight="normal" font-family="Liberation Sans, sans-serif">1967.90</text>
<rect x="1838" y="878" width="77" height="14" fill="#000"/>
<path d="M1837 885.5h4" stroke="#fff"/>
<text x="1843" y="890" font-size="12" fill="#fff" text-anchor="start" font-weight="normal" font-family="Liberation Sans, sans-serif">42.917</text>
<rect x="1838" y="893" width="77" height="14" fill="#ff0000"/>
<path d="M1837 900.5h4" stroke="#fff"/>
<text x="1843" y="905" font-size="12" fill="#fff" text-anchor="start" font-weight="normal" font-family="Liberation Sans, sans-serif">39.298</text>
<rect x="1906.5" y="17.5" width="8" height="8" fill="#fff" stroke="#c0c0c0"/><path d="M1908 21.5h5" stroke="#c0c0c0"/>
<text x="11" y="945" font-size="12" fill="#000" text-anchor="start" font-weight="normal" font-family="Liberation Sans, sans-serif">20.02.26</text>
<text x="82" y="945" font-size="12" fill="#000" text-anchor="start" font-weight="normal" font-family="Liberation Sans, sans-serif">19</text>
<text x="121.85" y="945" font-size="12" fill="#000" text-anchor="end" font-weight="normal" font-family="Liberation Sans, sans-serif">12</text>
<text x="124.1" y="945" font-size="12" fill="#000" text-anchor="start" font-weight="normal" font-family="Liberation Sans, sans-serif">19</text>
<text x="164.85" y="945" font-size="12" fill="#000" text-anchor="end" font-weight="normal" font-family="Liberation Sans, sans-serif">02</text>
<text x="167.1" y="945" font-size="12" fill="#000" text-anchor="start" font-weight="normal" font-family="Liberation Sans, sans-serif">20</text>
<text x="206.85" y="945" font-size="12" fill="#000" text-anchor="end" font-weight="normal" font-family="Liberation Sans, sans-serif">04</text>
<text x="209.1" y="945" font-size="12" fill="#000" text-anchor="start" font-weight="normal" font-family="Liberation Sans, sans-serif">20</text>
<text x="250.85" y="945" font-size="12" fill="#000" text-anchor="end" font-weight="normal" font-family="Liberation Sans, sans-serif">06</text>
<text x="253.1" y="945" font-size="12" fill="#000" text-anchor="start" font-weight="normal" font-family="Liberation Sans, sans-serif">20</text>
<text x="295.85" y="945" font-size="12" fill="#000" text-anchor="end" font-weight="normal" font-family="Liberation Sans, sans-serif">08</text>
<text x="298.1" y="945" font-size="12" fill="#000" text-anchor="start" font-weight="normal" font-family="Liberation Sans, sans-serif">20</text>
<text x="339.85" y="945" font-size="12" fill="#000" text-anchor="end" font-weight="normal" font-family="Liberation Sans, sans-serif">10</text>
<text x="342.1" y="945" font-size="12" fill="#000" text-anchor="start" font-weight="normal" font-family="Liberation Sans, sans-serif">20</text>
<text x="382.85" y="945" font-size="12" fill="#000" text-anchor="end" font-weight="normal" font-family="Liberation Sans, sans-serif">12</text>
<text x="385.1" y="945" font-size="12" fill="#000" text-anchor="start" font-weight="normal" font-family="Liberation Sans, sans-serif">20</text>
<text x="427.85" y="945" font-size="12" fill="#000" text-anchor="end" font-weight="normal" font-family="Liberation Sans, sans-serif">02</text>
<text x="430.1" y="945" font-size="12" fill="#000" text-anchor="start" font-weight="normal" font-family="Liberation Sans, sans-serif">21</text>
<text x="470.85" y="945" font-size="12" fill="#000" text-anchor="end" font-weight="normal" font-family="Liberation Sans, sans-serif">04</text>
<text x="473.1" y="945" font-size="12" fill="#000" text-anchor="start" font-weight="normal" font-family="Liberation Sans, sans-serif">21</text>
<text x="514.85" y="945" font-size="12" fill="#000" text-anchor="end" font-weight="normal" font-family="Liberation Sans, sans-serif">06</text>
<text x="517.1" y="945" font-size="12" fill="#000" text-anchor="start" font-weight="normal" font-family="Liberation Sans, sans-serif">21</text>
<text x="558.85" y="945" font-size="12" fill="#000" text-anchor="end" font-weight="normal" font-family="Liberation Sans, sans-serif">08</text>
<text x="561.1" y="945" font-size="12" fill="#000" text-anchor="start" font-weight="normal" font-family="Liberation Sans, sans-serif">21</text>
<text x="603.85" y="945" font-size="12" fill="#000" text-anchor="end" font-weight="normal" font-family="Liberation Sans, sans-serif">10</text>
<text x="606.1" y="945" font-size="12" fill="#000" text-anchor="start" font-weight="normal" font-family="Liberation Sans, sans-serif">21</text>
<text x="646.85" y="945" font-size="12" fill="#000" text-anchor="end" font-weight="normal" font-family="Liberation Sans, sans-serif">12</text>
<text x="649.1" y="945" font-size="12" fill="#000" text-anchor="start" font-weight="normal" font-family="Liberation Sans, sans-serif">21</text>
<text x="691.85" y="945" font-size="12" fill="#000" text-anchor="end" font-weight="normal" font-family="Liberation Sans, sans-serif">02</text>
<text x="694.1" y="945" font-size="12" fill="#000" text-anchor="start" font-weight="normal" font-family="Liberation Sans, sans-serif">22</text>
<text x="734.85" y="945" font-size="12" fill="#000" text-anchor="end" font-weight="normal" font-family="Liberation Sans, sans-serif">04</text>
<text x="737.1" y="945" font-size="12" fill="#000" text-anchor="start" font-weight="normal" font-family="Liberation Sans, sans-serif">22</text>
<text x="778.85" y="945" font-size="12" fill="#000" text-anchor="end" font-weight="normal" font-family="Liberation Sans, sans-serif">06</text>
<text x="781.1" y="945" font-size="12" fill="#000" text-anchor="start" font-weight="normal" font-family="Liberation Sans, sans-serif">22</text>
<text x="821.85" y="945" font-size="12" fill="#000" text-anchor="end" font-weight="normal" font-family="Liberation Sans, sans-serif">08</text>
<text x="824.1" y="945" font-size="12" fill="#000" text-anchor="start" font-weight="normal" font-family="Liberation Sans, sans-serif">22</text>
<text x="867.85" y="945" font-size="12" fill="#000" text-anchor="end" font-weight="normal" font-family="Liberation Sans, sans-serif">10</text>
<text x="870.1" y="945" font-size="12" fill="#000" text-anchor="start" font-weight="normal" font-family="Liberation Sans, sans-serif">22</text>
<text x="910.85" y="945" font-size="12" fill="#000" text-anchor="end" font-weight="normal" font-family="Liberation Sans, sans-serif">12</text>
<text x="913.1" y="945" font-size="12" fill="#000" text-anchor="start" font-weight="normal" font-family="Liberation Sans, sans-serif">22</text>
<text x="955.85" y="945" font-size="12" fill="#000" text-anchor="end" font-weight="normal" font-family="Liberation Sans, sans-serif">02</text>
<text x="958.1" y="945" font-size="12" fill="#000" text-anchor="start" font-weight="normal" font-family="Liberation Sans, sans-serif">23</text>
<text x="998.85" y="945" font-size="12" fill="#000" text-anchor="end" font-weight="normal" font-family="Liberation Sans, sans-serif">04</text>
<text x="1001.1" y="945" font-size="12" fill="#000" text-anchor="start" font-weight="normal" font-family="Liberation Sans, sans-serif">23</text>
<text x="1042.85" y="945" font-size="12" fill="#000" text-anchor="end" font-weight="normal" font-family="Liberation Sans, sans-serif">06</text>
<text x="1045.1" y="945" font-size="12" fill="#000" text-anchor="start" font-weight="normal" font-family="Liberation Sans, sans-serif">23</text>
<text x="1085.85" y="945" font-size="12" fill="#000" text-anchor="end" font-weight="normal" font-family="Liberation Sans, sans-serif">08</text>
<text x="1088.1" y="945" font-size="12" fill="#000" text-anchor="start" font-weight="normal" font-family="Liberation Sans, sans-serif">23</text>
<text x="1130.85" y="945" font-size="12" fill="#000" text-anchor="end" font-weight="normal" font-family="Liberation Sans, sans-serif">10</text>
<text x="1133.1" y="945" font-size="12" fill="#000" text-anchor="start" font-weight="normal" font-family="Liberation Sans, sans-serif">23</text>
<text x="1174.85" y="945" font-size="12" fill="#000" text-anchor="end" font-weight="normal" font-family="Liberation Sans, sans-serif">12</text>
<text x="1177.1" y="945" font-size="12" fill="#000" text-anchor="start" font-weight="normal" font-family="Liberation Sans, sans-serif">23</text>
<text x="1219.85" y="945" font-size="12" fill="#000" text-anchor="end" font-weight="normal" font-family="Liberation Sans, sans-serif">02</text>
<text x="1222.1" y="945" font-size="12" fill="#000" text-anchor="start" font-weight="normal" font-family="Liberation Sans, sans-serif">24</text>
<text x="1261.85" y="945" font-size="12" fill="#000" text-anchor="end" font-weight="normal" font-family="Liberation Sans, sans-serif">04</text>
<text x="1264.1" y="945" font-size="12" fill="#000" text-anchor="start" font-weight="normal" font-family="Liberation Sans, sans-serif">24</text>
<text x="1307.85" y="945" font-size="12" fill="#000" text-anchor="end" font-weight="normal" font-family="Liberation Sans, sans-serif">06</text>
<text x="1310.1" y="945" font-size="12" fill="#000" text-anchor="start" font-weight="normal" font-family="Liberation Sans, sans-serif">24</text>
<text x="1350.85" y="945" font-size="12" fill="#000" text-anchor="end" font-weight="normal" font-family="Liberation Sans, sans-serif">08</text>
<text x="1353.1" y="945" font-size="12" fill="#000" text-anchor="start" font-weight="normal" font-family="Liberation Sans, sans-serif">24</text>
<text x="1394.85" y="945" font-size="12" fill="#000" text-anchor="end" font-weight="normal" font-family="Liberation Sans, sans-serif">10</text>
<text x="1397.1" y="945" font-size="12" fill="#000" text-anchor="start" font-weight="normal" font-family="Liberation Sans, sans-serif">24</text>
<text x="1438.85" y="945" font-size="12" fill="#000" text-anchor="end" font-weight="normal" font-family="Liberation Sans, sans-serif">12</text>
<text x="1441.1" y="945" font-size="12" fill="#000" text-anchor="start" font-weight="normal" font-family="Liberation Sans, sans-serif">24</text>
<text x="1484.85" y="945" font-size="12" fill="#000" text-anchor="end" font-weight="normal" font-family="Liberation Sans, sans-serif">02</text>
<text x="1487.1" y="945" font-size="12" fill="#000" text-anchor="start" font-weight="normal" font-family="Liberation Sans, sans-serif">25</text>
<text x="1525.85" y="945" font-size="12" fill="#000" text-anchor="end" font-weight="normal" font-family="Liberation Sans, sans-serif">04</text>
<text x="1528.1" y="945" font-size="12" fill="#000" text-anchor="start" font-weight="normal" font-family="Liberation Sans, sans-serif">25</text>
<text x="1570.85" y="945" font-size="12" fill="#000" text-anchor="end" font-weight="normal" font-family="Liberation Sans, sans-serif">06</text>
<text x="1573.1" y="945" font-size="12" fill="#000" text-anchor="start" font-weight="normal" font-family="Liberation Sans, sans-serif">25</text>
<text x="1615.85" y="945" font-size="12" fill="#000" text-anchor="end" font-weight="normal" font-family="Liberation Sans, sans-serif">08</text>
<text x="1618.1" y="945" font-size="12" fill="#000" text-anchor="start" font-weight="normal" font-family="Liberation Sans, sans-serif">25</text>
<text x="1658.85" y="945" font-size="12" fill="#000" text-anchor="end" font-weight="normal" font-family="Liberation Sans, sans-serif">10</text>
<text x="1661.1" y="945" font-size="12" fill="#000" text-anchor="start" font-weight="normal" font-family="Liberation Sans, sans-serif">25</text>
<text x="1702.85" y="945" font-size="12" fill="#000" text-anchor="end" font-weight="normal" font-family="Liberation Sans, sans-serif">12</text>
<text x="1705.1" y="945" font-size="12" fill="#000" text-anchor="start" font-weight="normal" font-family="Liberation Sans, sans-serif">25</text>
<text x="1747.85" y="945" font-size="12" fill="#000" text-anchor="end" font-weight="normal" font-family="Liberation Sans, sans-serif">02</text>
<text x="1750.1" y="945" font-size="12" fill="#000" text-anchor="start" font-weight="normal" font-family="Liberation Sans, sans-serif">26</text>
<text x="1790.85" y="945" font-size="12" fill="#000" text-anchor="end" font-weight="normal" font-family="Liberation Sans, sans-serif">04</text>
<text x="1793.1" y="945" font-size="12" fill="#000" text-anchor="start" font-weight="normal" font-family="Liberation Sans, sans-serif">26</text>
<text x="1826.8" y="944" font-size="12" fill="#000" text-anchor="start" font-weight="normal" font-family="Liberation Sans, sans-serif">-</text>
<text x="256.3" y="54" font-size="13.3" fill="#000" text-anchor="start" font-weight="bold" font-family="Liberation Sans, sans-serif" textLength="151" lengthAdjust="spacingAndGlyphs">ETHEREUM (ETH) USD</text>
<text x="445" y="52.5" font-size="12" fill="#000" text-anchor="start" font-weight="normal" font-family="Liberation Serif, sans-serif" textLength="1104" lengthAdjust="spacingAndGlyphs">Haftungsausschluss f&#252;r Inhalte: Alle Trendkan&#228;le bzw. andere Linien, oder Grafiken hier sind keine Empfehlungen, oder Beratung, sondern die zeigen lediglich meine eigene Einsch&#228;tzung. Alle Chartdaten sind ohne Gew&#228;hr.&#160; www.wikifolio.com/de/de/p/cyberwaehrungen</text>
<text x="402.5" y="830" font-size="12" fill="#00008b" text-anchor="start" font-weight="normal" font-family="Liberation Sans, sans-serif" textLength="928.7" lengthAdjust="spacingAndGlyphs">- Stochastik-Oszillator - Ein Indikator, f&#252;r erfahrene viel-Trader, schwankt zwischen Null und 100. Seine &#252;berverkaufte Zone, liegt unter 20 und die &#252;berkaufte Zone, &#252;ber 80.</text>
<text x="496.4" y="132.8" font-size="12" fill="#2a8a9c" text-anchor="start" font-weight="normal" font-family="Liberation Sans, sans-serif" textLength="127.5" lengthAdjust="spacingAndGlyphs">Durchbruch nach oben!</text>
<text x="492.4" y="188.7" font-size="12" fill="#2a8a9c" text-anchor="start" font-weight="normal" font-family="Liberation Sans, sans-serif" textLength="127.5" lengthAdjust="spacingAndGlyphs">Durchbruch nach oben!</text>
<text x="1483.6" y="181" font-size="12" fill="#2a8a9c" text-anchor="start" font-weight="normal" font-family="Liberation Sans, sans-serif" textLength="127.5" lengthAdjust="spacingAndGlyphs">Durchbruch nach oben!</text>
<text x="816.4" y="858.4" font-size="12.5" fill="#000" text-anchor="start" font-weight="normal" font-family="Liberation Sans, sans-serif">80.000</text>
<text x="1182.4" y="884" font-size="12.5" fill="#000" text-anchor="start" font-weight="normal" font-family="Liberation Sans, sans-serif">50.000</text>
<text x="1548.4" y="909.8" font-size="12.5" fill="#000" text-anchor="start" font-weight="normal" font-family="Liberation Sans, sans-serif">20.000</text>
<rect x="5.5" y="844.5" width="47" height="14" fill="#fff" stroke="#000"/>
<text x="8" y="856" font-size="12" fill="#000" text-anchor="start" font-weight="normal" font-family="Liberation Sans, sans-serif">Sto(9/5)</text>
<rect x="55.5" y="845.5" width="12" height="12" fill="#fff" stroke="#000"/><path d="M57 851.5h9M61.5 847v9" stroke="#000" stroke-width="2"/>
<rect x="8" y="860" width="20" height="13" fill="#fff"/>
<text x="8" y="871" font-size="12" fill="#000" text-anchor="start" font-weight="normal" font-family="Liberation Sans, sans-serif">%K</text>
<rect x="8" y="876" width="21" height="12" fill="#fff"/>
<text x="8" y="886" font-size="12" fill="#ff0000" text-anchor="start" font-weight="normal" font-family="Liberation Sans, sans-serif">%D</text>
</svg>
</body></html>
